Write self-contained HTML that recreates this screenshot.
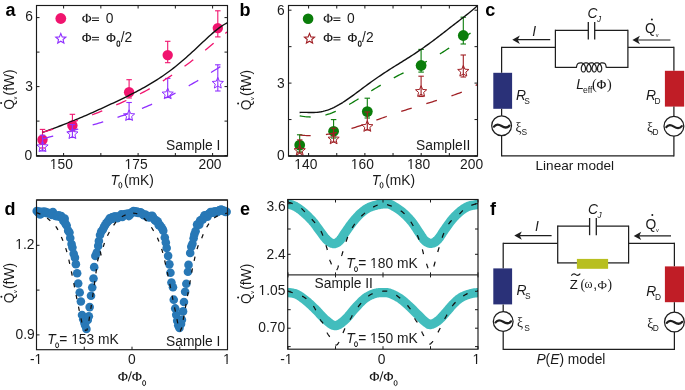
<!DOCTYPE html>
<html><head><meta charset="utf-8"><style>
html,body{margin:0;padding:0;background:#fff;width:685px;height:390px;overflow:hidden}
svg{display:block}
</style></head><body>
<svg style="will-change:transform" width="685" height="390" viewBox="0 0 685 390">
<rect width="685" height="390" fill="#fff"/>
<text x="5.5" y="16" font-size="18" font-family="Liberation Sans" font-weight="bold" fill="#000">a</text>
<line x1="42.5" y1="129.4" x2="42.5" y2="148" stroke="#f0146e" stroke-width="1.1" />
<line x1="39.75" y1="129.4" x2="45.25" y2="129.4" stroke="#f0146e" stroke-width="1.1" />
<line x1="39.75" y1="148" x2="45.25" y2="148" stroke="#f0146e" stroke-width="1.1" />
<circle cx="42.5" cy="139.8" r="5.2" fill="#f0146e" stroke="none" stroke-width="0"/>
<line x1="72.4" y1="114.3" x2="72.4" y2="131" stroke="#f0146e" stroke-width="1.1" />
<line x1="69.65" y1="114.3" x2="75.15" y2="114.3" stroke="#f0146e" stroke-width="1.1" />
<line x1="69.65" y1="131" x2="75.15" y2="131" stroke="#f0146e" stroke-width="1.1" />
<circle cx="72.4" cy="125.5" r="5.2" fill="#f0146e" stroke="none" stroke-width="0"/>
<line x1="129.1" y1="79.7" x2="129.1" y2="98" stroke="#f0146e" stroke-width="1.1" />
<line x1="126.35" y1="79.7" x2="131.85" y2="79.7" stroke="#f0146e" stroke-width="1.1" />
<line x1="126.35" y1="98" x2="131.85" y2="98" stroke="#f0146e" stroke-width="1.1" />
<circle cx="129.1" cy="92.3" r="5.2" fill="#f0146e" stroke="none" stroke-width="0"/>
<line x1="167.7" y1="41.3" x2="167.7" y2="62.7" stroke="#f0146e" stroke-width="1.1" />
<line x1="164.95" y1="41.3" x2="170.45" y2="41.3" stroke="#f0146e" stroke-width="1.1" />
<line x1="164.95" y1="62.7" x2="170.45" y2="62.7" stroke="#f0146e" stroke-width="1.1" />
<circle cx="167.7" cy="55.1" r="5.2" fill="#f0146e" stroke="none" stroke-width="0"/>
<line x1="217.8" y1="10.8" x2="217.8" y2="36.9" stroke="#f0146e" stroke-width="1.1" />
<line x1="215.05" y1="10.8" x2="220.55" y2="10.8" stroke="#f0146e" stroke-width="1.1" />
<line x1="215.05" y1="36.9" x2="220.55" y2="36.9" stroke="#f0146e" stroke-width="1.1" />
<circle cx="217.8" cy="28.1" r="5.2" fill="#f0146e" stroke="none" stroke-width="0"/>
<line x1="42.5" y1="135.2" x2="42.5" y2="151" stroke="#9030ff" stroke-width="1.1" />
<line x1="39.75" y1="135.2" x2="45.25" y2="135.2" stroke="#9030ff" stroke-width="1.1" />
<line x1="39.75" y1="151" x2="45.25" y2="151" stroke="#9030ff" stroke-width="1.1" />
<path d="M42.5,140.9 L44.06,144.65 L48.11,144.98 L45.03,147.62 L45.97,151.57 L42.5,149.46 L39.03,151.57 L39.97,147.62 L36.89,144.98 L40.94,144.65Z" fill="none" stroke="#9030ff" stroke-width="1.0" stroke-linejoin="miter"/>
<line x1="72.4" y1="124.6" x2="72.4" y2="137.5" stroke="#9030ff" stroke-width="1.1" />
<line x1="69.65" y1="124.6" x2="75.15" y2="124.6" stroke="#9030ff" stroke-width="1.1" />
<line x1="69.65" y1="137.5" x2="75.15" y2="137.5" stroke="#9030ff" stroke-width="1.1" />
<path d="M72.4,127.9 L73.96,131.65 L78.01,131.98 L74.93,134.62 L75.87,138.57 L72.4,136.46 L68.93,138.57 L69.87,134.62 L66.79,131.98 L70.84,131.65Z" fill="none" stroke="#9030ff" stroke-width="1.0" stroke-linejoin="miter"/>
<line x1="129.1" y1="102.5" x2="129.1" y2="119.5" stroke="#9030ff" stroke-width="1.1" />
<line x1="126.35" y1="102.5" x2="131.85" y2="102.5" stroke="#9030ff" stroke-width="1.1" />
<line x1="126.35" y1="119.5" x2="131.85" y2="119.5" stroke="#9030ff" stroke-width="1.1" />
<path d="M129.1,109.8 L130.66,113.55 L134.71,113.88 L131.63,116.52 L132.57,120.47 L129.1,118.36 L125.63,120.47 L126.57,116.52 L123.49,113.88 L127.54,113.55Z" fill="none" stroke="#9030ff" stroke-width="1.0" stroke-linejoin="miter"/>
<line x1="167.7" y1="78.4" x2="167.7" y2="97.5" stroke="#9030ff" stroke-width="1.1" />
<line x1="164.95" y1="78.4" x2="170.45" y2="78.4" stroke="#9030ff" stroke-width="1.1" />
<line x1="164.95" y1="97.5" x2="170.45" y2="97.5" stroke="#9030ff" stroke-width="1.1" />
<path d="M167.7,88.1 L169.26,91.85 L173.31,92.18 L170.23,94.82 L171.17,98.77 L167.7,96.66 L164.23,98.77 L165.17,94.82 L162.09,92.18 L166.14,91.85Z" fill="none" stroke="#9030ff" stroke-width="1.0" stroke-linejoin="miter"/>
<line x1="217.8" y1="64.8" x2="217.8" y2="91" stroke="#9030ff" stroke-width="1.1" />
<line x1="215.05" y1="64.8" x2="220.55" y2="64.8" stroke="#9030ff" stroke-width="1.1" />
<line x1="215.05" y1="91" x2="220.55" y2="91" stroke="#9030ff" stroke-width="1.1" />
<path d="M217.8,77.4 L219.36,81.15 L223.41,81.48 L220.33,84.12 L221.27,88.07 L217.8,85.95 L214.33,88.07 L215.27,84.12 L212.19,81.48 L216.24,81.15Z" fill="none" stroke="#9030ff" stroke-width="1.0" stroke-linejoin="miter"/>
<path d="M42.6,132.36 L44.68,131.59 L46.76,130.84 L48.83,130.09 L50.91,129.33 L52.99,128.58 L55.07,127.82 L57.14,127.05 L59.22,126.27 L61.3,125.49 L63.38,124.7 L65.45,123.89 L67.53,123.08 L69.61,122.25 L71.69,121.42 L73.76,120.57 L75.84,119.71 L77.92,118.85 L80,117.97 L82.07,117.08 L84.15,116.19 L86.23,115.28 L88.31,114.37 L90.38,113.46 L92.46,112.53 L94.54,111.6 L96.62,110.67 L98.69,109.73 L100.77,108.78 L102.85,107.83 L104.93,106.88 L107,105.92 L109.08,104.96 L111.16,103.99 L113.24,103.02 L115.31,102.04 L117.39,101.06 L119.47,100.07 L121.55,99.07 L123.62,98.06 L125.7,97.05 L127.78,96.03 L129.86,94.99 L131.93,93.94 L134.01,92.88 L136.09,91.81 L138.17,90.71 L140.24,89.6 L142.32,88.47 L144.4,87.32 L146.48,86.15 L148.55,84.95 L150.63,83.72 L152.71,82.47 L154.79,81.18 L156.86,79.87 L158.94,78.52 L161.02,77.14 L163.1,75.73 L165.17,74.28 L167.25,72.79 L169.33,71.26 L171.41,69.7 L173.48,68.09 L175.56,66.45 L177.64,64.77 L179.72,63.06 L181.79,61.3 L183.87,59.52 L185.95,57.7 L188.03,55.84 L190.1,53.96 L192.18,52.06 L194.26,50.14 L196.34,48.2 L198.41,46.24 L200.49,44.29 L202.57,42.33 L204.65,40.39 L206.72,38.46 L208.8,36.56 L210.88,34.7 L212.96,32.89 L215.03,31.13 L217.11,29.45 L219.19,27.86 L221.27,26.36 L223.34,24.99 L225.42,23.76 L227.5,22.68" fill="none" stroke="#111" stroke-width="1.4" stroke-linejoin="round" stroke-linecap="butt"/>
<path d="M42.6,132.18 L44.68,131.63 L46.76,131.05 L48.83,130.45 L50.91,129.82 L52.99,129.18 L55.07,128.52 L57.14,127.84 L59.22,127.14 L61.3,126.43 L63.38,125.71 L65.45,124.98 L67.53,124.24 L69.61,123.48 L71.69,122.72 L73.76,121.96 L75.84,121.18 L77.92,120.4 L80,119.61 L82.07,118.82 L84.15,118.02 L86.23,117.21 L88.31,116.4 L90.38,115.59 L92.46,114.77 L94.54,113.95 L96.62,113.12 L98.69,112.28 L100.77,111.44 L102.85,110.59 L104.93,109.74 L107,108.88 L109.08,108.01 L111.16,107.14 L113.24,106.25 L115.31,105.36 L117.39,104.46 L119.47,103.54 L121.55,102.62 L123.62,101.69 L125.7,100.74 L127.78,99.78 L129.86,98.81 L131.93,97.82 L134.01,96.82 L136.09,95.8 L138.17,94.77 L140.24,93.71 L142.32,92.65 L144.4,91.56 L146.48,90.45 L148.55,89.33 L150.63,88.18 L152.71,87.02 L154.79,85.83 L156.86,84.62 L158.94,83.39 L161.02,82.14 L163.1,80.87 L165.17,79.57 L167.25,78.25 L169.33,76.9 L171.41,75.53 L173.48,74.14 L175.56,72.73 L177.64,71.29 L179.72,69.83 L181.79,68.34 L183.87,66.84 L185.95,65.31 L188.03,63.76 L190.1,62.18 L192.18,60.59 L194.26,58.98 L196.34,57.35 L198.41,55.7 L200.49,54.04 L202.57,52.36 L204.65,50.66 L206.72,48.96 L208.8,47.24 L210.88,45.52 L212.96,43.78 L215.03,42.05 L217.11,40.31 L219.19,38.57 L221.27,36.83 L223.34,35.09 L225.42,33.37 L227.5,31.65" fill="none" stroke="#f0146e" stroke-width="1.3" stroke-dasharray="11,15.2" stroke-linejoin="round" stroke-linecap="butt"/>
<path d="M42.6,139.01 L44.68,138.41 L46.76,137.8 L48.83,137.2 L50.91,136.61 L52.99,136.02 L55.07,135.43 L57.14,134.85 L59.22,134.27 L61.3,133.69 L63.38,133.12 L65.45,132.54 L67.53,131.97 L69.61,131.4 L71.69,130.82 L73.76,130.25 L75.84,129.68 L77.92,129.11 L80,128.53 L82.07,127.95 L84.15,127.38 L86.23,126.79 L88.31,126.21 L90.38,125.62 L92.46,125.02 L94.54,124.42 L96.62,123.82 L98.69,123.21 L100.77,122.59 L102.85,121.97 L104.93,121.34 L107,120.7 L109.08,120.06 L111.16,119.4 L113.24,118.74 L115.31,118.07 L117.39,117.39 L119.47,116.69 L121.55,115.99 L123.62,115.28 L125.7,114.55 L127.78,113.81 L129.86,113.06 L131.93,112.3 L134.01,111.53 L136.09,110.74 L138.17,109.94 L140.24,109.12 L142.32,108.29 L144.4,107.45 L146.48,106.59 L148.55,105.72 L150.63,104.83 L152.71,103.93 L154.79,103.01 L156.86,102.08 L158.94,101.13 L161.02,100.17 L163.1,99.19 L165.17,98.19 L167.25,97.18 L169.33,96.16 L171.41,95.12 L173.48,94.06 L175.56,92.98 L177.64,91.9 L179.72,90.79 L181.79,89.67 L183.87,88.54 L185.95,87.39 L188.03,86.23 L190.1,85.05 L192.18,83.86 L194.26,82.66 L196.34,81.45 L198.41,80.22 L200.49,78.98 L202.57,77.72 L204.65,76.46 L206.72,75.19 L208.8,73.91 L210.88,72.61 L212.96,71.31 L215.03,70.01 L217.11,68.69 L219.19,67.37 L221.27,66.05 L223.34,64.72 L225.42,63.38 L227.5,62.05" fill="none" stroke="#9030ff" stroke-width="1.3" stroke-dasharray="11,15" stroke-linejoin="round" stroke-linecap="butt"/>
<rect x="36.5" y="5.5" width="191" height="150.5" fill="none" stroke="#1a1a1a" stroke-width="1.15"/>
<line x1="36.5" y1="156" x2="227.5" y2="156" stroke="#222" stroke-width="1.45" />
<line x1="63.6" y1="156" x2="63.6" y2="153" stroke="#1a1a1a" stroke-width="1.0" />
<line x1="63.6" y1="5.5" x2="63.6" y2="8.5" stroke="#1a1a1a" stroke-width="1.0" />
<line x1="100.85" y1="156" x2="100.85" y2="153" stroke="#1a1a1a" stroke-width="1.0" />
<line x1="100.85" y1="5.5" x2="100.85" y2="8.5" stroke="#1a1a1a" stroke-width="1.0" />
<line x1="138.1" y1="156" x2="138.1" y2="153" stroke="#1a1a1a" stroke-width="1.0" />
<line x1="138.1" y1="5.5" x2="138.1" y2="8.5" stroke="#1a1a1a" stroke-width="1.0" />
<line x1="175.35" y1="156" x2="175.35" y2="153" stroke="#1a1a1a" stroke-width="1.0" />
<line x1="175.35" y1="5.5" x2="175.35" y2="8.5" stroke="#1a1a1a" stroke-width="1.0" />
<line x1="212.6" y1="156" x2="212.6" y2="153" stroke="#1a1a1a" stroke-width="1.0" />
<line x1="212.6" y1="5.5" x2="212.6" y2="8.5" stroke="#1a1a1a" stroke-width="1.0" />
<line x1="36.5" y1="155.6" x2="39.5" y2="155.6" stroke="#1a1a1a" stroke-width="1.0" />
<line x1="227.5" y1="155.6" x2="224.5" y2="155.6" stroke="#1a1a1a" stroke-width="1.0" />
<line x1="36.5" y1="121.1" x2="39.5" y2="121.1" stroke="#1a1a1a" stroke-width="1.0" />
<line x1="227.5" y1="121.1" x2="224.5" y2="121.1" stroke="#1a1a1a" stroke-width="1.0" />
<line x1="36.5" y1="86.6" x2="39.5" y2="86.6" stroke="#1a1a1a" stroke-width="1.0" />
<line x1="227.5" y1="86.6" x2="224.5" y2="86.6" stroke="#1a1a1a" stroke-width="1.0" />
<line x1="36.5" y1="52.1" x2="39.5" y2="52.1" stroke="#1a1a1a" stroke-width="1.0" />
<line x1="227.5" y1="52.1" x2="224.5" y2="52.1" stroke="#1a1a1a" stroke-width="1.0" />
<line x1="36.5" y1="17.6" x2="39.5" y2="17.6" stroke="#1a1a1a" stroke-width="1.0" />
<line x1="227.5" y1="17.6" x2="224.5" y2="17.6" stroke="#1a1a1a" stroke-width="1.0" />
<text x="32.1" y="159.6" font-size="13.8" font-family="Liberation Sans" text-anchor="end" fill="#1a1a1a">0</text>
<text x="32.9" y="90.6" font-size="13.8" font-family="Liberation Sans" text-anchor="end" fill="#1a1a1a">3</text>
<text x="32.9" y="21.2" font-size="13.8" font-family="Liberation Sans" text-anchor="end" fill="#1a1a1a">6</text>
<text x="61.3" y="168.9" font-size="13.8" font-family="Liberation Sans" text-anchor="middle" fill="#1a1a1a">150</text>
<text x="136.1" y="168.9" font-size="13.8" font-family="Liberation Sans" text-anchor="middle" fill="#1a1a1a">175</text>
<text x="210" y="168.9" font-size="13.8" font-family="Liberation Sans" text-anchor="middle" fill="#1a1a1a">200</text>
<text x="110.6" y="184.6" font-size="13.8" font-family="Liberation Sans" font-style="italic" fill="#1a1a1a">T</text>
<ellipse cx="120.35" cy="185.2" rx="1.48" ry="2.82" fill="none" stroke="#1a1a1a" stroke-width="0.95"/>
<text x="124" y="184.6" font-size="13.8" font-family="Liberation Sans" fill="#1a1a1a">(mK)</text>
<g transform="translate(13.5,109.7) rotate(-90)">
<text x="0" y="0" font-size="13.8" font-family="Liberation Sans" fill="#1a1a1a">Q</text>
<text x="10.3" y="3.3" font-size="5.6" font-family="Liberation Sans" fill="#1a1a1a">v</text>
<text x="14.3" y="0" font-size="13.8" font-family="Liberation Sans" fill="#1a1a1a">(fW)</text>
<circle cx="6.6" cy="-12.4" r="1.0" fill="#1a1a1a"/>
</g>
<circle cx="60.8" cy="18.5" r="5.4" fill="#f0146e" stroke="none" stroke-width="0"/>
<path d="M60.8,33.5 L62.2,36.87 L65.84,37.16 L63.07,39.54 L63.92,43.09 L60.8,41.18 L57.68,43.09 L58.53,39.54 L55.76,37.16 L59.4,36.87Z" fill="none" stroke="#9030ff" stroke-width="1.1" stroke-linejoin="miter"/>
<path d="M82.2,18.6 A4.5,3.2 0 1,0 91.2,18.6 A4.5,3.2 0 1,0 82.2,18.6 Z M83.65,18.6 A3.05,2.5 0 1,1 89.75,18.6 A3.05,2.5 0 1,1 83.65,18.6 Z" fill="#1a1a1a" fill-rule="evenodd"/>
<rect x="86.05" y="13.9" width="1.3" height="8.7" fill="#1a1a1a"/>
<rect x="85.5" y="13.9" width="2.4" height="0.55" fill="#1a1a1a" opacity="0.8"/>
<rect x="85.5" y="22.05" width="2.4" height="0.55" fill="#1a1a1a" opacity="0.8"/>
<line x1="92" y1="18" x2="99" y2="18" stroke="#1a1a1a" stroke-width="1.0" />
<line x1="92" y1="20.5" x2="99" y2="20.5" stroke="#1a1a1a" stroke-width="1.0" />
<path d="M82.2,38 A4.5,3.2 0 1,0 91.2,38 A4.5,3.2 0 1,0 82.2,38 Z M83.65,38 A3.05,2.5 0 1,1 89.75,38 A3.05,2.5 0 1,1 83.65,38 Z" fill="#1a1a1a" fill-rule="evenodd"/>
<rect x="86.05" y="33.3" width="1.3" height="8.7" fill="#1a1a1a"/>
<rect x="85.5" y="33.3" width="2.4" height="0.55" fill="#1a1a1a" opacity="0.8"/>
<rect x="85.5" y="41.45" width="2.4" height="0.55" fill="#1a1a1a" opacity="0.8"/>
<line x1="92" y1="37.4" x2="99" y2="37.4" stroke="#1a1a1a" stroke-width="1.0" />
<line x1="92" y1="39.9" x2="99" y2="39.9" stroke="#1a1a1a" stroke-width="1.0" />
<text x="105.7" y="22.8" font-size="13.8" font-family="Liberation Sans" fill="#1a1a1a">0</text>
<path d="M106.5,38 A4.5,3.2 0 1,0 115.5,38 A4.5,3.2 0 1,0 106.5,38 Z M107.95,38 A3.05,2.5 0 1,1 114.05,38 A3.05,2.5 0 1,1 107.95,38 Z" fill="#1a1a1a" fill-rule="evenodd"/>
<rect x="110.35" y="33.3" width="1.3" height="8.7" fill="#1a1a1a"/>
<rect x="109.8" y="33.3" width="2.4" height="0.55" fill="#1a1a1a" opacity="0.8"/>
<rect x="109.8" y="41.45" width="2.4" height="0.55" fill="#1a1a1a" opacity="0.8"/>
<ellipse cx="118.35" cy="43.65" rx="1.43" ry="2.63" fill="none" stroke="#1a1a1a" stroke-width="1.05"/>
<text x="120.7" y="42.2" font-size="13.8" font-family="Liberation Sans" fill="#1a1a1a">/2</text>
<text x="166" y="149.7" font-size="13.8" font-family="Liberation Sans" fill="#1a1a1a">Sample I</text>
<text x="239.5" y="16" font-size="18" font-family="Liberation Sans" font-weight="bold" fill="#000">b</text>
<line x1="299.7" y1="134.8" x2="299.7" y2="152" stroke="#0a7d0a" stroke-width="1.1" />
<line x1="296.95" y1="134.8" x2="302.45" y2="134.8" stroke="#0a7d0a" stroke-width="1.1" />
<line x1="296.95" y1="152" x2="302.45" y2="152" stroke="#0a7d0a" stroke-width="1.1" />
<circle cx="299.7" cy="145.1" r="5.4" fill="#0a7d0a" stroke="none" stroke-width="0"/>
<line x1="333.6" y1="119.6" x2="333.6" y2="138" stroke="#0a7d0a" stroke-width="1.1" />
<line x1="330.85" y1="119.6" x2="336.35" y2="119.6" stroke="#0a7d0a" stroke-width="1.1" />
<line x1="330.85" y1="138" x2="336.35" y2="138" stroke="#0a7d0a" stroke-width="1.1" />
<circle cx="333.6" cy="131.3" r="5.4" fill="#0a7d0a" stroke="none" stroke-width="0"/>
<line x1="367.3" y1="98.2" x2="367.3" y2="118" stroke="#0a7d0a" stroke-width="1.1" />
<line x1="364.55" y1="98.2" x2="370.05" y2="98.2" stroke="#0a7d0a" stroke-width="1.1" />
<line x1="364.55" y1="118" x2="370.05" y2="118" stroke="#0a7d0a" stroke-width="1.1" />
<circle cx="367.3" cy="111.6" r="5.4" fill="#0a7d0a" stroke="none" stroke-width="0"/>
<line x1="421.1" y1="49.4" x2="421.1" y2="72.1" stroke="#0a7d0a" stroke-width="1.1" />
<line x1="418.35" y1="49.4" x2="423.85" y2="49.4" stroke="#0a7d0a" stroke-width="1.1" />
<line x1="418.35" y1="72.1" x2="423.85" y2="72.1" stroke="#0a7d0a" stroke-width="1.1" />
<circle cx="421.1" cy="65.5" r="5.4" fill="#0a7d0a" stroke="none" stroke-width="0"/>
<line x1="463.3" y1="17.2" x2="463.3" y2="44" stroke="#0a7d0a" stroke-width="1.1" />
<line x1="460.55" y1="17.2" x2="466.05" y2="17.2" stroke="#0a7d0a" stroke-width="1.1" />
<line x1="460.55" y1="44" x2="466.05" y2="44" stroke="#0a7d0a" stroke-width="1.1" />
<circle cx="463.3" cy="35.5" r="5.4" fill="#0a7d0a" stroke="none" stroke-width="0"/>
<line x1="299.7" y1="139.9" x2="299.7" y2="153" stroke="#a01f24" stroke-width="1.1" />
<line x1="296.95" y1="139.9" x2="302.45" y2="139.9" stroke="#a01f24" stroke-width="1.1" />
<line x1="296.95" y1="153" x2="302.45" y2="153" stroke="#a01f24" stroke-width="1.1" />
<path d="M299.7,144.7 L301.26,148.45 L305.31,148.78 L302.23,151.42 L303.17,155.37 L299.7,153.25 L296.23,155.37 L297.17,151.42 L294.09,148.78 L298.14,148.45Z" fill="none" stroke="#a01f24" stroke-width="1.0" stroke-linejoin="miter"/>
<line x1="333.6" y1="128.2" x2="333.6" y2="142" stroke="#a01f24" stroke-width="1.1" />
<line x1="330.85" y1="128.2" x2="336.35" y2="128.2" stroke="#a01f24" stroke-width="1.1" />
<line x1="330.85" y1="142" x2="336.35" y2="142" stroke="#a01f24" stroke-width="1.1" />
<path d="M333.6,133.2 L335.16,136.95 L339.21,137.28 L336.13,139.92 L337.07,143.87 L333.6,141.75 L330.13,143.87 L331.07,139.92 L327.99,137.28 L332.04,136.95Z" fill="none" stroke="#a01f24" stroke-width="1.0" stroke-linejoin="miter"/>
<line x1="367.3" y1="112" x2="367.3" y2="130" stroke="#a01f24" stroke-width="1.1" />
<line x1="364.55" y1="112" x2="370.05" y2="112" stroke="#a01f24" stroke-width="1.1" />
<line x1="364.55" y1="130" x2="370.05" y2="130" stroke="#a01f24" stroke-width="1.1" />
<path d="M367.3,120.7 L368.86,124.45 L372.91,124.78 L369.83,127.42 L370.77,131.37 L367.3,129.25 L363.83,131.37 L364.77,127.42 L361.69,124.78 L365.74,124.45Z" fill="none" stroke="#a01f24" stroke-width="1.0" stroke-linejoin="miter"/>
<line x1="421.1" y1="76.2" x2="421.1" y2="96.5" stroke="#a01f24" stroke-width="1.1" />
<line x1="418.35" y1="76.2" x2="423.85" y2="76.2" stroke="#a01f24" stroke-width="1.1" />
<line x1="418.35" y1="96.5" x2="423.85" y2="96.5" stroke="#a01f24" stroke-width="1.1" />
<path d="M421.1,85.7 L422.66,89.45 L426.71,89.78 L423.63,92.42 L424.57,96.37 L421.1,94.25 L417.63,96.37 L418.57,92.42 L415.49,89.78 L419.54,89.45Z" fill="none" stroke="#a01f24" stroke-width="1.0" stroke-linejoin="miter"/>
<line x1="463.3" y1="55" x2="463.3" y2="77" stroke="#a01f24" stroke-width="1.1" />
<line x1="460.55" y1="55" x2="466.05" y2="55" stroke="#a01f24" stroke-width="1.1" />
<line x1="460.55" y1="77" x2="466.05" y2="77" stroke="#a01f24" stroke-width="1.1" />
<path d="M463.3,65.4 L464.86,69.15 L468.91,69.48 L465.83,72.12 L466.77,76.07 L463.3,73.95 L459.83,76.07 L460.77,72.12 L457.69,69.48 L461.74,69.15Z" fill="none" stroke="#a01f24" stroke-width="1.0" stroke-linejoin="miter"/>
<path d="M299.6,112.5 L301.39,112.37 L303.19,112.33 L304.98,112.35 L306.78,112.39 L308.57,112.45 L310.37,112.48 L312.16,112.5 L313.96,112.47 L315.75,112.38 L317.55,112.24 L319.34,112.03 L321.14,111.74 L322.93,111.38 L324.73,110.94 L326.52,110.42 L328.32,109.82 L330.11,109.14 L331.91,108.39 L333.7,107.57 L335.5,106.68 L337.29,105.73 L339.09,104.71 L340.88,103.64 L342.68,102.53 L344.47,101.36 L346.27,100.16 L348.06,98.93 L349.86,97.66 L351.65,96.37 L353.45,95.06 L355.24,93.74 L357.04,92.41 L358.83,91.07 L360.63,89.73 L362.42,88.39 L364.22,87.05 L366.01,85.72 L367.81,84.4 L369.6,83.09 L371.4,81.8 L373.19,80.52 L374.99,79.25 L376.78,78 L378.58,76.77 L380.37,75.55 L382.17,74.34 L383.96,73.16 L385.76,71.98 L387.55,70.82 L389.35,69.67 L391.14,68.53 L392.94,67.4 L394.73,66.28 L396.53,65.16 L398.32,64.04 L400.12,62.92 L401.91,61.81 L403.71,60.69 L405.5,59.56 L407.3,58.43 L409.09,57.29 L410.89,56.14 L412.68,54.98 L414.48,53.81 L416.27,52.62 L418.07,51.41 L419.86,50.19 L421.66,48.96 L423.45,47.71 L425.25,46.44 L427.04,45.15 L428.84,43.85 L430.63,42.54 L432.43,41.21 L434.22,39.86 L436.02,38.51 L437.81,37.14 L439.61,35.76 L441.4,34.38 L443.2,32.99 L444.99,31.6 L446.79,30.2 L448.58,28.81 L450.38,27.41 L452.17,26.02 L453.97,24.62 L455.76,23.23 L457.56,21.84 L459.35,20.46 L461.15,19.07 L462.94,17.68 L464.74,16.28 L466.53,14.88 L468.33,13.45 L470.12,12.01 L471.92,10.53 L473.71,9.01 L475.51,7.43 L477.3,5.79" fill="none" stroke="#111" stroke-width="1.4" stroke-linejoin="round" stroke-linecap="butt"/>
<path d="M299.7,115.88 L301.49,116.19 L303.29,116.46 L305.08,116.67 L306.88,116.84 L308.67,116.94 L310.46,116.99 L312.26,116.98 L314.05,116.91 L315.85,116.78 L317.64,116.58 L319.43,116.33 L321.23,116.01 L323.02,115.63 L324.82,115.19 L326.61,114.7 L328.4,114.14 L330.2,113.54 L331.99,112.88 L333.78,112.17 L335.58,111.41 L337.37,110.61 L339.17,109.77 L340.96,108.89 L342.75,107.97 L344.55,107.02 L346.34,106.04 L348.14,105.03 L349.93,104 L351.72,102.95 L353.52,101.88 L355.31,100.79 L357.11,99.69 L358.9,98.58 L360.69,97.46 L362.49,96.34 L364.28,95.22 L366.08,94.09 L367.87,92.97 L369.66,91.85 L371.46,90.74 L373.25,89.63 L375.05,88.54 L376.84,87.45 L378.63,86.38 L380.43,85.32 L382.22,84.27 L384.02,83.23 L385.81,82.21 L387.6,81.2 L389.4,80.21 L391.19,79.23 L392.98,78.26 L394.78,77.31 L396.57,76.37 L398.37,75.45 L400.16,74.53 L401.95,73.63 L403.75,72.73 L405.54,71.84 L407.34,70.95 L409.13,70.08 L410.92,69.2 L412.72,68.32 L414.51,67.44 L416.31,66.57 L418.1,65.68 L419.89,64.79 L421.69,63.89 L423.48,62.98 L425.28,62.06 L427.07,61.12 L428.86,60.17 L430.66,59.2 L432.45,58.22 L434.25,57.21 L436.04,56.18 L437.83,55.13 L439.63,54.06 L441.42,52.96 L443.22,51.84 L445.01,50.7 L446.8,49.53 L448.6,48.34 L450.39,47.14 L452.18,45.91 L453.98,44.66 L455.77,43.41 L457.57,42.14 L459.36,40.86 L461.15,39.58 L462.95,38.31 L464.74,37.04 L466.54,35.79 L468.33,34.56 L470.12,33.36 L471.92,32.2 L473.71,31.08 L475.51,30.03 L477.3,29.05" fill="none" stroke="#0a7d0a" stroke-width="1.3" stroke-dasharray="11,15" stroke-linejoin="round" stroke-linecap="butt"/>
<path d="M299.7,134.87 L301.49,135.1 L303.29,135.28 L305.08,135.43 L306.88,135.54 L308.67,135.61 L310.46,135.64 L312.26,135.64 L314.05,135.6 L315.85,135.53 L317.64,135.42 L319.43,135.28 L321.23,135.11 L323.02,134.91 L324.82,134.68 L326.61,134.42 L328.4,134.14 L330.2,133.83 L331.99,133.49 L333.78,133.13 L335.58,132.75 L337.37,132.34 L339.17,131.92 L340.96,131.47 L342.75,131 L344.55,130.52 L346.34,130.02 L348.14,129.51 L349.93,128.98 L351.72,128.43 L353.52,127.88 L355.31,127.31 L357.11,126.73 L358.9,126.14 L360.69,125.55 L362.49,124.94 L364.28,124.33 L366.08,123.71 L367.87,123.09 L369.66,122.46 L371.46,121.83 L373.25,121.2 L375.05,120.56 L376.84,119.92 L378.63,119.29 L380.43,118.65 L382.22,118.01 L384.02,117.38 L385.81,116.74 L387.6,116.11 L389.4,115.48 L391.19,114.86 L392.98,114.24 L394.78,113.62 L396.57,113.01 L398.37,112.4 L400.16,111.8 L401.95,111.2 L403.75,110.61 L405.54,110.02 L407.34,109.44 L409.13,108.86 L410.92,108.29 L412.72,107.73 L414.51,107.17 L416.31,106.61 L418.1,106.06 L419.89,105.52 L421.69,104.98 L423.48,104.44 L425.28,103.9 L427.07,103.37 L428.86,102.84 L430.66,102.31 L432.45,101.78 L434.25,101.24 L436.04,100.71 L437.83,100.17 L439.63,99.63 L441.42,99.09 L443.22,98.54 L445.01,97.98 L446.8,97.41 L448.6,96.83 L450.39,96.24 L452.18,95.63 L453.98,95.01 L455.77,94.38 L457.57,93.72 L459.36,93.04 L461.15,92.34 L462.95,91.61 L464.74,90.86 L466.54,90.07 L468.33,89.25 L470.12,88.4 L471.92,87.51 L473.71,86.58 L475.51,85.6 L477.3,84.58" fill="none" stroke="#a01f24" stroke-width="1.3" stroke-dasharray="11,15.3" stroke-linejoin="round" stroke-linecap="butt"/>
<rect x="288.5" y="5.5" width="189" height="150.5" fill="none" stroke="#1a1a1a" stroke-width="1.15"/>
<line x1="288.5" y1="156" x2="477.5" y2="156" stroke="#222" stroke-width="1.45" />
<line x1="308.6" y1="156" x2="308.6" y2="153" stroke="#1a1a1a" stroke-width="1.0" />
<line x1="308.6" y1="5.5" x2="308.6" y2="8.5" stroke="#1a1a1a" stroke-width="1.0" />
<line x1="336.75" y1="156" x2="336.75" y2="153" stroke="#1a1a1a" stroke-width="1.0" />
<line x1="336.75" y1="5.5" x2="336.75" y2="8.5" stroke="#1a1a1a" stroke-width="1.0" />
<line x1="364.89" y1="156" x2="364.89" y2="153" stroke="#1a1a1a" stroke-width="1.0" />
<line x1="364.89" y1="5.5" x2="364.89" y2="8.5" stroke="#1a1a1a" stroke-width="1.0" />
<line x1="393.04" y1="156" x2="393.04" y2="153" stroke="#1a1a1a" stroke-width="1.0" />
<line x1="393.04" y1="5.5" x2="393.04" y2="8.5" stroke="#1a1a1a" stroke-width="1.0" />
<line x1="421.18" y1="156" x2="421.18" y2="153" stroke="#1a1a1a" stroke-width="1.0" />
<line x1="421.18" y1="5.5" x2="421.18" y2="8.5" stroke="#1a1a1a" stroke-width="1.0" />
<line x1="449.33" y1="156" x2="449.33" y2="153" stroke="#1a1a1a" stroke-width="1.0" />
<line x1="449.33" y1="5.5" x2="449.33" y2="8.5" stroke="#1a1a1a" stroke-width="1.0" />
<line x1="288.5" y1="156" x2="291.5" y2="156" stroke="#1a1a1a" stroke-width="1.0" />
<line x1="477.5" y1="156" x2="474.5" y2="156" stroke="#1a1a1a" stroke-width="1.0" />
<line x1="288.5" y1="119.55" x2="291.5" y2="119.55" stroke="#1a1a1a" stroke-width="1.0" />
<line x1="477.5" y1="119.55" x2="474.5" y2="119.55" stroke="#1a1a1a" stroke-width="1.0" />
<line x1="288.5" y1="83.1" x2="291.5" y2="83.1" stroke="#1a1a1a" stroke-width="1.0" />
<line x1="477.5" y1="83.1" x2="474.5" y2="83.1" stroke="#1a1a1a" stroke-width="1.0" />
<line x1="288.5" y1="46.65" x2="291.5" y2="46.65" stroke="#1a1a1a" stroke-width="1.0" />
<line x1="477.5" y1="46.65" x2="474.5" y2="46.65" stroke="#1a1a1a" stroke-width="1.0" />
<line x1="288.5" y1="10.2" x2="291.5" y2="10.2" stroke="#1a1a1a" stroke-width="1.0" />
<line x1="477.5" y1="10.2" x2="474.5" y2="10.2" stroke="#1a1a1a" stroke-width="1.0" />
<text x="284.8" y="160.2" font-size="13.8" font-family="Liberation Sans" text-anchor="end" fill="#1a1a1a">0</text>
<text x="284.8" y="88" font-size="13.8" font-family="Liberation Sans" text-anchor="end" fill="#1a1a1a">3</text>
<text x="284.8" y="14.6" font-size="13.8" font-family="Liberation Sans" text-anchor="end" fill="#1a1a1a">6</text>
<text x="305.8" y="169.2" font-size="13.8" font-family="Liberation Sans" text-anchor="middle" fill="#1a1a1a">140</text>
<text x="362.3" y="169.2" font-size="13.8" font-family="Liberation Sans" text-anchor="middle" fill="#1a1a1a">160</text>
<text x="418.6" y="169.2" font-size="13.8" font-family="Liberation Sans" text-anchor="middle" fill="#1a1a1a">180</text>
<text x="471.6" y="169.2" font-size="13.8" font-family="Liberation Sans" text-anchor="middle" fill="#1a1a1a">200</text>
<text x="371.8" y="184.6" font-size="13.8" font-family="Liberation Sans" font-style="italic" fill="#1a1a1a">T</text>
<ellipse cx="381.55" cy="185.2" rx="1.47" ry="2.82" fill="none" stroke="#1a1a1a" stroke-width="0.95"/>
<text x="385.2" y="184.6" font-size="13.8" font-family="Liberation Sans" fill="#1a1a1a">(mK)</text>
<g transform="translate(250.5,110.2) rotate(-90)">
<text x="0" y="0" font-size="13.8" font-family="Liberation Sans" fill="#1a1a1a">Q</text>
<text x="10.3" y="3.3" font-size="5.6" font-family="Liberation Sans" fill="#1a1a1a">v</text>
<text x="14.3" y="0" font-size="13.8" font-family="Liberation Sans" fill="#1a1a1a">(fW)</text>
<circle cx="6.6" cy="-12.4" r="1.0" fill="#1a1a1a"/>
</g>
<circle cx="308.1" cy="18.8" r="5.3" fill="#0a7d0a" stroke="none" stroke-width="0"/>
<path d="M309.5,33.5 L310.9,36.87 L314.54,37.16 L311.77,39.54 L312.62,43.09 L309.5,41.18 L306.38,43.09 L307.23,39.54 L304.46,37.16 L308.1,36.87Z" fill="none" stroke="#a01f24" stroke-width="1.1" stroke-linejoin="miter"/>
<path d="M323.6,18.6 A4.5,3.2 0 1,0 332.6,18.6 A4.5,3.2 0 1,0 323.6,18.6 Z M325.05,18.6 A3.05,2.5 0 1,1 331.15,18.6 A3.05,2.5 0 1,1 325.05,18.6 Z" fill="#1a1a1a" fill-rule="evenodd"/>
<rect x="327.45" y="13.9" width="1.3" height="8.7" fill="#1a1a1a"/>
<rect x="326.9" y="13.9" width="2.4" height="0.55" fill="#1a1a1a" opacity="0.8"/>
<rect x="326.9" y="22.05" width="2.4" height="0.55" fill="#1a1a1a" opacity="0.8"/>
<line x1="333.4" y1="18" x2="340.4" y2="18" stroke="#1a1a1a" stroke-width="1.0" />
<line x1="333.4" y1="20.5" x2="340.4" y2="20.5" stroke="#1a1a1a" stroke-width="1.0" />
<path d="M323.6,38 A4.5,3.2 0 1,0 332.6,38 A4.5,3.2 0 1,0 323.6,38 Z M325.05,38 A3.05,2.5 0 1,1 331.15,38 A3.05,2.5 0 1,1 325.05,38 Z" fill="#1a1a1a" fill-rule="evenodd"/>
<rect x="327.45" y="33.3" width="1.3" height="8.7" fill="#1a1a1a"/>
<rect x="326.9" y="33.3" width="2.4" height="0.55" fill="#1a1a1a" opacity="0.8"/>
<rect x="326.9" y="41.45" width="2.4" height="0.55" fill="#1a1a1a" opacity="0.8"/>
<line x1="333.4" y1="37.4" x2="340.4" y2="37.4" stroke="#1a1a1a" stroke-width="1.0" />
<line x1="333.4" y1="39.9" x2="340.4" y2="39.9" stroke="#1a1a1a" stroke-width="1.0" />
<text x="347.1" y="22.8" font-size="13.8" font-family="Liberation Sans" fill="#1a1a1a">0</text>
<path d="M347.9,38 A4.5,3.2 0 1,0 356.9,38 A4.5,3.2 0 1,0 347.9,38 Z M349.35,38 A3.05,2.5 0 1,1 355.45,38 A3.05,2.5 0 1,1 349.35,38 Z" fill="#1a1a1a" fill-rule="evenodd"/>
<rect x="351.75" y="33.3" width="1.3" height="8.7" fill="#1a1a1a"/>
<rect x="351.2" y="33.3" width="2.4" height="0.55" fill="#1a1a1a" opacity="0.8"/>
<rect x="351.2" y="41.45" width="2.4" height="0.55" fill="#1a1a1a" opacity="0.8"/>
<ellipse cx="359.75" cy="43.65" rx="1.43" ry="2.63" fill="none" stroke="#1a1a1a" stroke-width="1.05"/>
<text x="362.1" y="42.2" font-size="13.8" font-family="Liberation Sans" fill="#1a1a1a">/2</text>
<text x="416" y="149.7" font-size="13.8" font-family="Liberation Sans" fill="#1a1a1a">SampleII</text>
<text x="485.3" y="16.2" font-size="18" font-family="Liberation Sans" font-weight="bold" fill="#000">c</text>
<line x1="501.6" y1="47.4" x2="555.4" y2="47.4" stroke="#1e1e1e" stroke-width="1.25" />
<line x1="501.6" y1="46.8" x2="501.6" y2="72.8" stroke="#1e1e1e" stroke-width="1.25" />
<line x1="555.4" y1="29.7" x2="555.4" y2="67.9" stroke="#1e1e1e" stroke-width="1.25" />
<line x1="627.9" y1="29.7" x2="627.9" y2="67.9" stroke="#1e1e1e" stroke-width="1.25" />
<line x1="555.4" y1="30.3" x2="588.3" y2="30.3" stroke="#1e1e1e" stroke-width="1.25" />
<line x1="594.7" y1="30.3" x2="627.9" y2="30.3" stroke="#1e1e1e" stroke-width="1.25" />
<line x1="588.3" y1="22.1" x2="588.3" y2="39.4" stroke="#1e1e1e" stroke-width="1.3" />
<line x1="594.7" y1="22.1" x2="594.7" y2="39.4" stroke="#1e1e1e" stroke-width="1.3" />
<line x1="627.9" y1="47.4" x2="673.9" y2="47.4" stroke="#1e1e1e" stroke-width="1.25" />
<line x1="673.9" y1="46.8" x2="673.9" y2="70.8" stroke="#1e1e1e" stroke-width="1.25" />
<rect x="493.3" y="72.8" width="18.8" height="36" fill="#2a3178"/>
<rect x="664.9" y="70.8" width="19.3" height="35.8" fill="#c01d26"/>
<line x1="501.6" y1="108.8" x2="501.6" y2="156.4" stroke="#1e1e1e" stroke-width="1.25" />
<line x1="673.9" y1="106.6" x2="673.9" y2="156.4" stroke="#1e1e1e" stroke-width="1.25" />
<line x1="501.6" y1="155.8" x2="673.9" y2="155.8" stroke="#1e1e1e" stroke-width="1.25" />
<circle cx="501.6" cy="125.75" r="9.9" fill="#fff" stroke="#1e1e1e" stroke-width="1.25"/>
<path d="M494,126.65 C496.1,123.65 498.6,124.15 501.6,126.05 S507.1,128.45 509.5,125.55" fill="none" stroke="#1e1e1e" stroke-width="2.2" stroke-linecap="round"/>
<circle cx="673.9" cy="126.3" r="9.9" fill="#fff" stroke="#1e1e1e" stroke-width="1.25"/>
<path d="M666.3,127.2 C668.4,124.2 670.9,124.7 673.9,126.6 S679.4,129 681.8,126.1" fill="none" stroke="#1e1e1e" stroke-width="2.2" stroke-linecap="round"/>
<line x1="555.4" y1="67.4" x2="576.4" y2="67.4" stroke="#1e1e1e" stroke-width="1.25" />
<line x1="606.3" y1="67.4" x2="627.9" y2="67.4" stroke="#1e1e1e" stroke-width="1.25" />
<path d="M575.9,67.4 L576.4,67.4 C577,63.4 578.1,62.8 580.7,62.8 L581.12,62.82 L581.54,62.89 L581.95,63.01 L582.35,63.16 L582.74,63.36 L583.11,63.6 L583.46,63.88 L583.79,64.2 L584.1,64.54 L584.38,64.91 L584.63,65.31 L584.85,65.73 L585.05,66.17 L585.21,66.62 L585.33,67.07 L585.42,67.53 L585.48,67.99 L585.51,68.45 L585.5,68.89 L585.47,69.31 L585.4,69.72 L585.3,70.11 L585.18,70.46 L585.03,70.79 L584.85,71.09 L584.66,71.34 L584.45,71.56 L584.23,71.73 L584,71.87 L583.75,71.95 L583.51,72 L583.26,71.99 L583.01,71.94 L582.77,71.85 L582.53,71.71 L582.31,71.53 L582.11,71.3 L581.92,71.04 L581.75,70.74 L581.6,70.41 L581.48,70.04 L581.39,69.66 L581.33,69.24 L581.3,68.81 L581.3,68.37 L581.33,67.92 L581.39,67.46 L581.49,67 L581.62,66.54 L581.79,66.1 L581.98,65.66 L582.21,65.24 L582.47,64.85 L582.76,64.48 L583.07,64.14 L583.4,63.83 L583.76,63.56 L584.13,63.33 L584.52,63.13 L584.92,62.98 L585.34,62.88 L585.75,62.82 L586.17,62.8 L586.59,62.83 L587.01,62.91 L587.42,63.03 L587.82,63.19 L588.2,63.4 L588.57,63.65 L588.92,63.93 L589.25,64.25 L589.55,64.6 L589.83,64.98 L590.07,65.38 L590.29,65.81 L590.48,66.24 L590.63,66.69 L590.75,67.15 L590.84,67.61 L590.89,68.07 L590.92,68.52 L590.9,68.96 L590.86,69.38 L590.79,69.79 L590.68,70.17 L590.56,70.52 L590.4,70.84 L590.23,71.13 L590.03,71.38 L589.82,71.59 L589.59,71.76 L589.36,71.88 L589.11,71.96 L588.87,72 L588.62,71.99 L588.37,71.93 L588.13,71.83 L587.9,71.68 L587.68,71.49 L587.48,71.26 L587.29,70.99 L587.13,70.69 L586.99,70.35 L586.87,69.98 L586.78,69.59 L586.72,69.17 L586.7,68.74 L586.7,68.29 L586.74,67.84 L586.81,67.38 L586.91,66.92 L587.05,66.47 L587.22,66.02 L587.42,65.59 L587.66,65.18 L587.92,64.79 L588.21,64.42 L588.52,64.09 L588.86,63.78 L589.22,63.52 L589.6,63.29 L589.99,63.11 L590.4,62.96 L590.81,62.86 L591.23,62.81 L591.65,62.8 L592.07,62.84 L592.48,62.92 L592.89,63.05 L593.29,63.23 L593.67,63.44 L594.04,63.69 L594.38,63.98 L594.7,64.31 L595,64.66 L595.27,65.05 L595.52,65.45 L595.73,65.88 L595.91,66.32 L596.06,66.77 L596.17,67.23 L596.26,67.69 L596.3,68.15 L596.32,68.6 L596.3,69.03 L596.25,69.45 L596.18,69.85 L596.07,70.23 L595.94,70.58 L595.78,70.89 L595.6,71.18 L595.4,71.42 L595.19,71.62 L594.96,71.78 L594.72,71.9 L594.48,71.97 L594.23,72 L593.98,71.98 L593.73,71.92 L593.5,71.81 L593.27,71.65 L593.05,71.45 L592.85,71.22 L592.67,70.94 L592.51,70.63 L592.37,70.29 L592.26,69.92 L592.17,69.52 L592.12,69.1 L592.1,68.67 L592.11,68.22 L592.15,67.76 L592.23,67.3 L592.34,66.84 L592.48,66.39 L592.66,65.95 L592.86,65.52 L593.1,65.11 L593.37,64.72 L593.66,64.36 L593.98,64.03 L594.33,63.74 L594.69,63.48 L595.07,63.26 L595.46,63.08 L595.87,62.94 L596.28,62.85 L596.7,62.81 L597.12,62.81 L597.54,62.85 L597.96,62.94 L598.36,63.08 L598.76,63.26 L599.14,63.48 L599.5,63.74 L599.84,64.04 L600.16,64.37 L600.45,64.73 L600.72,65.11 L600.96,65.52 L601.17,65.95 L601.34,66.39 L601.48,66.85 L601.59,67.31 L601.67,67.77 L601.71,68.22 L601.72,68.67 L601.7,69.1 L601.65,69.52 L601.56,69.92 L601.45,70.29 L601.31,70.63 L601.15,70.94 L600.97,71.22 L600.77,71.46 L600.55,71.65 L600.32,71.81 L600.08,71.92 L599.84,71.98 L599.59,72 L599.34,71.97 L599.1,71.9 L598.86,71.78 L598.63,71.62 L598.42,71.42 L598.22,71.17 L598.04,70.89 L597.88,70.58 L597.75,70.23 L597.65,69.85 L597.57,69.45 L597.52,69.03 L597.5,68.59 L597.52,68.14 L597.57,67.68 L597.65,67.22 L597.76,66.77 L597.91,66.32 L598.09,65.87 L598.31,65.45 L598.55,65.04 L598.82,64.66 L599.12,64.3 L599.44,63.98 L599.79,63.69 L600.15,63.44 L600.54,63.22 L600.93,63.05 L601.34,62.92 L601.76,62.84 L602.18,62.8 L602.31,62.8 C604.91,62.8 605.7,63.4 606.3,67.4 L606.8,67.4" fill="none" stroke="#1e1e1e" stroke-width="1.2" stroke-linejoin="round"/>
<line x1="517.3" y1="39.7" x2="550.2" y2="39.7" stroke="#1e1e1e" stroke-width="1.2" />
<path d="M512.3,39.7 L519.8,35.5 L517.8,39.7 L519.8,43.9 Z" fill="#1e1e1e"/>
<line x1="637.4" y1="40" x2="670.4" y2="40" stroke="#1e1e1e" stroke-width="1.2" />
<path d="M632.4,40 L639.9,35.8 L637.9,40 L639.9,44.2 Z" fill="#1e1e1e"/>
<text x="532.3" y="35.7" font-size="13.8" font-family="Liberation Sans" font-style="italic" fill="#1a1a1a">I</text>
<text x="587.4" y="17.7" font-size="13.8" font-family="Liberation Sans" font-style="italic" fill="#1a1a1a">C</text>
<text x="597" y="21.8" font-size="8.2" font-family="Liberation Sans" font-style="italic" fill="#1a1a1a">J</text>
<text x="645.1" y="33" font-size="13.8" font-family="Liberation Sans" fill="#1a1a1a">Q</text>
<circle cx="651.9" cy="19.6" r="1.0" fill="#1a1a1a" stroke="none" stroke-width="0"/>
<text x="655.7" y="36.6" font-size="5.6" font-family="Liberation Sans" fill="#1a1a1a">v</text>
<text x="576.2" y="88.8" font-size="13.8" font-family="Liberation Sans" font-style="italic" fill="#1a1a1a">L</text>
<text x="582.9" y="93.1" font-size="8.6" font-family="Liberation Sans" fill="#1a1a1a">eff</text>
<text x="592" y="89.3" font-size="14.2" font-family="Liberation Serif" fill="#1a1a1a">(</text>
<path d="M596.9,84.65 A4.5,3.15 0 1,0 605.9,84.65 A4.5,3.15 0 1,0 596.9,84.65 Z M598.35,84.65 A3.05,2.45 0 1,1 604.45,84.65 A3.05,2.45 0 1,1 598.35,84.65 Z" fill="#1a1a1a" fill-rule="evenodd"/>
<rect x="600.75" y="80.2" width="1.3" height="8.5" fill="#1a1a1a"/>
<rect x="600.2" y="80.2" width="2.4" height="0.55" fill="#1a1a1a" opacity="0.8"/>
<rect x="600.2" y="88.15" width="2.4" height="0.55" fill="#1a1a1a" opacity="0.8"/>
<text x="606.9" y="89.3" font-size="14.2" font-family="Liberation Serif" fill="#1a1a1a">)</text>
<text x="516" y="99.5" font-size="13.8" font-family="Liberation Sans" font-style="italic" fill="#1a1a1a">R</text>
<text x="524.3" y="103.5" font-size="8.4" font-family="Liberation Sans" fill="#1a1a1a">S</text>
<text x="645.9" y="100" font-size="13.8" font-family="Liberation Sans" font-style="italic" fill="#1a1a1a">R</text>
<text x="654.6" y="104" font-size="8.4" font-family="Liberation Sans" fill="#1a1a1a">D</text>
<text x="515.4" y="131.5" font-size="13.6" font-family="Liberation Serif" fill="#1a1a1a">ξ</text>
<text x="521.6" y="134.7" font-size="8.4" font-family="Liberation Sans" fill="#1a1a1a">S</text>
<text x="647" y="132.2" font-size="13.6" font-family="Liberation Serif" fill="#1a1a1a">ξ</text>
<text x="652.4" y="135.2" font-size="8.4" font-family="Liberation Sans" fill="#1a1a1a">D</text>
<text x="535.5" y="169.9" font-size="13.6" font-family="Liberation Sans" fill="#1a1a1a">Linear model</text>
<text x="489.9" y="214.7" font-size="18" font-family="Liberation Sans" font-weight="bold" fill="#000">f</text>
<line x1="503.2" y1="243.3" x2="557.7" y2="243.3" stroke="#1e1e1e" stroke-width="1.25" />
<line x1="503.2" y1="242.7" x2="503.2" y2="268.4" stroke="#1e1e1e" stroke-width="1.25" />
<line x1="557.7" y1="225.6" x2="557.7" y2="263.5" stroke="#1e1e1e" stroke-width="1.25" />
<line x1="628.6" y1="225.6" x2="628.6" y2="263.5" stroke="#1e1e1e" stroke-width="1.25" />
<line x1="557.7" y1="226.2" x2="589.6" y2="226.2" stroke="#1e1e1e" stroke-width="1.25" />
<line x1="596.3" y1="226.2" x2="628.6" y2="226.2" stroke="#1e1e1e" stroke-width="1.25" />
<line x1="589.6" y1="218" x2="589.6" y2="235.2" stroke="#1e1e1e" stroke-width="1.3" />
<line x1="596.3" y1="218" x2="596.3" y2="235.2" stroke="#1e1e1e" stroke-width="1.3" />
<line x1="628.6" y1="243.3" x2="674.4" y2="243.3" stroke="#1e1e1e" stroke-width="1.25" />
<line x1="674.4" y1="242.7" x2="674.4" y2="266.4" stroke="#1e1e1e" stroke-width="1.25" />
<rect x="493.3" y="268.4" width="18.8" height="36" fill="#2a3178"/>
<rect x="664.9" y="266.4" width="19.3" height="35.8" fill="#c01d26"/>
<line x1="503.2" y1="304.4" x2="503.2" y2="350" stroke="#1e1e1e" stroke-width="1.25" />
<line x1="674.4" y1="302.2" x2="674.4" y2="350" stroke="#1e1e1e" stroke-width="1.25" />
<line x1="503.2" y1="349.4" x2="674.4" y2="349.4" stroke="#1e1e1e" stroke-width="1.25" />
<circle cx="503.2" cy="321.5" r="9.9" fill="#fff" stroke="#1e1e1e" stroke-width="1.25"/>
<path d="M495.6,322.4 C497.7,319.4 500.2,319.9 503.2,321.8 S508.7,324.2 511.1,321.3" fill="none" stroke="#1e1e1e" stroke-width="2.2" stroke-linecap="round"/>
<circle cx="674.4" cy="322" r="9.9" fill="#fff" stroke="#1e1e1e" stroke-width="1.25"/>
<path d="M666.8,322.9 C668.9,319.9 671.4,320.4 674.4,322.3 S679.9,324.7 682.3,321.8" fill="none" stroke="#1e1e1e" stroke-width="2.2" stroke-linecap="round"/>
<line x1="557.7" y1="262.9" x2="577" y2="262.9" stroke="#1e1e1e" stroke-width="1.25" />
<line x1="608" y1="262.9" x2="628.6" y2="262.9" stroke="#1e1e1e" stroke-width="1.25" />
<rect x="576.9" y="258.9" width="31.2" height="9.9" fill="#b8bf20"/>
<line x1="519.3" y1="235.6" x2="551.6" y2="235.6" stroke="#1e1e1e" stroke-width="1.2" />
<path d="M514.3,235.6 L521.8,231.4 L519.8,235.6 L521.8,239.8 Z" fill="#1e1e1e"/>
<line x1="638.7" y1="235.9" x2="671" y2="235.9" stroke="#1e1e1e" stroke-width="1.2" />
<path d="M633.7,235.9 L641.2,231.7 L639.2,235.9 L641.2,240.1 Z" fill="#1e1e1e"/>
<text x="535" y="231.2" font-size="13.8" font-family="Liberation Sans" font-style="italic" fill="#1a1a1a">I</text>
<text x="587.9" y="213.8" font-size="13.8" font-family="Liberation Sans" font-style="italic" fill="#1a1a1a">C</text>
<text x="597.5" y="218" font-size="8.2" font-family="Liberation Sans" font-style="italic" fill="#1a1a1a">J</text>
<text x="645.5" y="228.8" font-size="13.8" font-family="Liberation Sans" fill="#1a1a1a">Q</text>
<circle cx="652.3" cy="214.9" r="1.0" fill="#1a1a1a" stroke="none" stroke-width="0"/>
<text x="656.1" y="232.4" font-size="5.6" font-family="Liberation Sans" fill="#1a1a1a">v</text>
<text x="569.8" y="288.6" font-size="13.2" font-family="Liberation Sans" fill="#1a1a1a">Z</text>
<path d="M571.3,275.6 Q573.5,272.8 575.8,274.6 T580.3,273.6" fill="none" stroke="#1a1a1a" stroke-width="1.1"/>
<text x="580.6" y="289.2" font-size="13.6" font-family="Liberation Serif" fill="#1a1a1a">(</text>
<text x="584.6" y="288.3" font-size="12.2" font-family="Liberation Serif" fill="#1a1a1a">ω</text>
<text x="593.2" y="288.6" font-size="13.8" font-family="Liberation Sans" fill="#1a1a1a">,</text>
<path d="M597.85,285.3 A4.35,2.6 0 1,0 606.55,285.3 A4.35,2.6 0 1,0 597.85,285.3 Z M599.05,285.3 A3.15,2 0 1,1 605.35,285.3 A3.15,2 0 1,1 599.05,285.3 Z" fill="#1a1a1a" fill-rule="evenodd"/>
<rect x="601.65" y="281.1" width="1.1" height="8" fill="#1a1a1a"/>
<rect x="601" y="281.1" width="2.4" height="0.55" fill="#1a1a1a" opacity="0.8"/>
<rect x="601" y="288.55" width="2.4" height="0.55" fill="#1a1a1a" opacity="0.8"/>
<text x="607.6" y="289.2" font-size="13.6" font-family="Liberation Serif" fill="#1a1a1a">)</text>
<text x="516.6" y="294.6" font-size="13.8" font-family="Liberation Sans" font-style="italic" fill="#1a1a1a">R</text>
<text x="524.9" y="298.6" font-size="8.4" font-family="Liberation Sans" fill="#1a1a1a">S</text>
<text x="646.3" y="295.8" font-size="13.8" font-family="Liberation Sans" font-style="italic" fill="#1a1a1a">R</text>
<text x="655" y="299.6" font-size="8.4" font-family="Liberation Sans" fill="#1a1a1a">D</text>
<text x="517" y="327.4" font-size="13.6" font-family="Liberation Serif" fill="#1a1a1a">ξ</text>
<text x="524.2" y="330.7" font-size="8.4" font-family="Liberation Sans" fill="#1a1a1a">S</text>
<text x="647.3" y="328" font-size="13.6" font-family="Liberation Serif" fill="#1a1a1a">ξ</text>
<text x="652.7" y="331.2" font-size="8.4" font-family="Liberation Sans" fill="#1a1a1a">D</text>
<text x="536.4" y="363.6" font-size="13.8" font-family="Liberation Sans" fill="#1a1a1a"><tspan font-style="italic">P</tspan>(<tspan font-style="italic">E</tspan>) model</text>
<text x="4.6" y="214.5" font-size="18" font-family="Liberation Sans" font-weight="bold" fill="#000">d</text>
<g fill="#2878b6">
<circle cx="36.75" cy="211.01" r="4.3"/>
<circle cx="38.28" cy="212.73" r="4.3"/>
<circle cx="39.59" cy="211.61" r="4.3"/>
<circle cx="40.19" cy="214.53" r="4.3"/>
<circle cx="41.46" cy="213.58" r="4.3"/>
<circle cx="42.93" cy="211.87" r="4.3"/>
<circle cx="43.83" cy="211.84" r="4.3"/>
<circle cx="45.3" cy="211.87" r="4.3"/>
<circle cx="46.03" cy="213.04" r="4.3"/>
<circle cx="47.06" cy="212.48" r="4.3"/>
<circle cx="48.56" cy="213.54" r="4.3"/>
<circle cx="49.43" cy="213.03" r="4.3"/>
<circle cx="50.81" cy="214.03" r="4.3"/>
<circle cx="51.93" cy="214.84" r="4.3"/>
<circle cx="52.92" cy="212.14" r="4.3"/>
<circle cx="54.24" cy="214.55" r="4.3"/>
<circle cx="55.32" cy="215.63" r="4.3"/>
<circle cx="56.44" cy="216.32" r="4.3"/>
<circle cx="57.74" cy="216.02" r="4.3"/>
<circle cx="58.76" cy="215.37" r="4.3"/>
<circle cx="60.09" cy="216.88" r="4.3"/>
<circle cx="61.28" cy="216.03" r="4.3"/>
<circle cx="62.25" cy="218.02" r="4.3"/>
<circle cx="63.41" cy="221" r="4.3"/>
<circle cx="64.68" cy="218.64" r="4.3"/>
<circle cx="65.45" cy="223.59" r="4.3"/>
<circle cx="66.66" cy="225.57" r="4.3"/>
<circle cx="68.17" cy="230.65" r="4.3"/>
<circle cx="69.47" cy="232.54" r="4.3"/>
<circle cx="70.24" cy="238.02" r="4.3"/>
<circle cx="71.56" cy="244.1" r="4.3"/>
<circle cx="72.43" cy="247.48" r="4.3"/>
<circle cx="73.69" cy="253.85" r="4.3"/>
<circle cx="74.94" cy="257.65" r="4.3"/>
<circle cx="75.88" cy="264.14" r="4.3"/>
<circle cx="77.13" cy="273.21" r="4.3"/>
<circle cx="78.2" cy="283.54" r="4.3"/>
<circle cx="79.71" cy="292.52" r="4.3"/>
<circle cx="80.88" cy="301.57" r="4.3"/>
<circle cx="82.02" cy="315.08" r="4.3"/>
<circle cx="83.23" cy="319.17" r="4.3"/>
<circle cx="84.41" cy="322.63" r="4.3"/>
<circle cx="85.02" cy="325.09" r="4.3"/>
<circle cx="86.44" cy="328.95" r="4.3"/>
<circle cx="87.78" cy="319.99" r="4.3"/>
<circle cx="88.85" cy="316.33" r="4.3"/>
<circle cx="89.64" cy="307.1" r="4.3"/>
<circle cx="91.01" cy="295.79" r="4.3"/>
<circle cx="92.26" cy="287.55" r="4.3"/>
<circle cx="93.51" cy="278.43" r="4.3"/>
<circle cx="94.2" cy="267.13" r="4.3"/>
<circle cx="95.38" cy="255.89" r="4.3"/>
<circle cx="96.82" cy="252.61" r="4.3"/>
<circle cx="98.22" cy="245.9" r="4.3"/>
<circle cx="98.88" cy="240.98" r="4.3"/>
<circle cx="100.03" cy="235" r="4.3"/>
<circle cx="101.23" cy="231.61" r="4.3"/>
<circle cx="102.72" cy="229.73" r="4.3"/>
<circle cx="103.91" cy="227.36" r="4.3"/>
<circle cx="105.03" cy="225.18" r="4.3"/>
<circle cx="106.29" cy="223.27" r="4.3"/>
<circle cx="107.38" cy="221.91" r="4.3"/>
<circle cx="108.55" cy="220.78" r="4.3"/>
<circle cx="109.58" cy="218.42" r="4.3"/>
<circle cx="110.81" cy="219.2" r="4.3"/>
<circle cx="111.93" cy="217.42" r="4.3"/>
<circle cx="112.93" cy="218.62" r="4.3"/>
<circle cx="113.78" cy="216.83" r="4.3"/>
<circle cx="114.9" cy="216.46" r="4.3"/>
<circle cx="116.14" cy="216.62" r="4.3"/>
<circle cx="117.21" cy="218.32" r="4.3"/>
<circle cx="118.61" cy="216.63" r="4.3"/>
<circle cx="119.58" cy="217.07" r="4.3"/>
<circle cx="121.21" cy="214.42" r="4.3"/>
<circle cx="122.4" cy="217.07" r="4.3"/>
<circle cx="123.47" cy="215.21" r="4.3"/>
<circle cx="124.47" cy="214.3" r="4.3"/>
<circle cx="125.32" cy="213.95" r="4.3"/>
<circle cx="126.95" cy="214.24" r="4.3"/>
<circle cx="127.8" cy="213.48" r="4.3"/>
<circle cx="128.81" cy="216.08" r="4.3"/>
<circle cx="130.04" cy="214.72" r="4.3"/>
<circle cx="131.44" cy="212.52" r="4.3"/>
<circle cx="132.36" cy="212.11" r="4.3"/>
<circle cx="133.53" cy="210.96" r="4.3"/>
<circle cx="134.72" cy="211.31" r="4.3"/>
<circle cx="135.77" cy="212.42" r="4.3"/>
<circle cx="136.98" cy="211.51" r="4.3"/>
<circle cx="138.29" cy="213.02" r="4.3"/>
<circle cx="139.09" cy="212.39" r="4.3"/>
<circle cx="140.65" cy="212.37" r="4.3"/>
<circle cx="141.52" cy="213.34" r="4.3"/>
<circle cx="142.9" cy="214.26" r="4.3"/>
<circle cx="143.74" cy="215.13" r="4.3"/>
<circle cx="145.38" cy="214.47" r="4.3"/>
<circle cx="146.31" cy="215.63" r="4.3"/>
<circle cx="147.12" cy="216.86" r="4.3"/>
<circle cx="148.36" cy="216.88" r="4.3"/>
<circle cx="149.58" cy="217.35" r="4.3"/>
<circle cx="150.61" cy="216.11" r="4.3"/>
<circle cx="152.24" cy="215.89" r="4.3"/>
<circle cx="152.91" cy="217.02" r="4.3"/>
<circle cx="154.41" cy="219.34" r="4.3"/>
<circle cx="155.3" cy="220.65" r="4.3"/>
<circle cx="156.77" cy="220.92" r="4.3"/>
<circle cx="157.8" cy="221.52" r="4.3"/>
<circle cx="158.77" cy="225.28" r="4.3"/>
<circle cx="159.91" cy="224.95" r="4.3"/>
<circle cx="161.41" cy="227.31" r="4.3"/>
<circle cx="162.55" cy="229.07" r="4.3"/>
<circle cx="163.26" cy="230.78" r="4.3"/>
<circle cx="164.8" cy="237.54" r="4.3"/>
<circle cx="165.83" cy="242.52" r="4.3"/>
<circle cx="166.68" cy="247.96" r="4.3"/>
<circle cx="168.13" cy="255.84" r="4.3"/>
<circle cx="169.4" cy="264.34" r="4.3"/>
<circle cx="170.44" cy="272.72" r="4.3"/>
<circle cx="171.45" cy="282.57" r="4.3"/>
<circle cx="172.99" cy="287.26" r="4.3"/>
<circle cx="173.77" cy="299.67" r="4.3"/>
<circle cx="175.23" cy="308.42" r="4.3"/>
<circle cx="176.24" cy="314.84" r="4.3"/>
<circle cx="177.2" cy="320.72" r="4.3"/>
<circle cx="178.25" cy="325.34" r="4.3"/>
<circle cx="179.48" cy="328.05" r="4.3"/>
<circle cx="181.03" cy="323.97" r="4.3"/>
<circle cx="181.92" cy="319.84" r="4.3"/>
<circle cx="183.06" cy="311.41" r="4.3"/>
<circle cx="183.96" cy="301.93" r="4.3"/>
<circle cx="185.12" cy="291.82" r="4.3"/>
<circle cx="186.33" cy="283.72" r="4.3"/>
<circle cx="187.95" cy="271.82" r="4.3"/>
<circle cx="188.53" cy="264.89" r="4.3"/>
<circle cx="190.19" cy="252.98" r="4.3"/>
<circle cx="191.29" cy="246.65" r="4.3"/>
<circle cx="192.45" cy="243.7" r="4.3"/>
<circle cx="193.62" cy="238.26" r="4.3"/>
<circle cx="194.31" cy="234.55" r="4.3"/>
<circle cx="195.58" cy="231.14" r="4.3"/>
<circle cx="197.05" cy="224.58" r="4.3"/>
<circle cx="197.84" cy="224.49" r="4.3"/>
<circle cx="199.32" cy="224.61" r="4.3"/>
<circle cx="200.12" cy="220.56" r="4.3"/>
<circle cx="201.28" cy="220.03" r="4.3"/>
<circle cx="202.86" cy="219.36" r="4.3"/>
<circle cx="203.76" cy="217.13" r="4.3"/>
<circle cx="204.62" cy="215.23" r="4.3"/>
<circle cx="205.96" cy="215.65" r="4.3"/>
<circle cx="207.47" cy="216.61" r="4.3"/>
<circle cx="208.49" cy="213.99" r="4.3"/>
<circle cx="209.27" cy="213.78" r="4.3"/>
<circle cx="210.52" cy="212.04" r="4.3"/>
<circle cx="211.94" cy="212.6" r="4.3"/>
<circle cx="213.13" cy="211.89" r="4.3"/>
<circle cx="214.24" cy="212.74" r="4.3"/>
<circle cx="215.25" cy="211.35" r="4.3"/>
<circle cx="216.2" cy="212.4" r="4.3"/>
<circle cx="217.67" cy="212.01" r="4.3"/>
<circle cx="218.98" cy="210.48" r="4.3"/>
<circle cx="219.64" cy="210.33" r="4.3"/>
<circle cx="221.02" cy="209.49" r="4.3"/>
<circle cx="222.13" cy="209.94" r="4.3"/>
<circle cx="223.16" cy="210.99" r="4.3"/>
<circle cx="224.32" cy="210.79" r="4.3"/>
<circle cx="225.57" cy="212.04" r="4.3"/>
<circle cx="226.62" cy="211.82" r="4.3"/>
</g>
<path d="M36.5,212.6 L39.1,213.6 L43,215.2 L47.7,218.5 L52,222.2 L56.3,227.1 L59.2,232 L61.8,238 L64.3,244 L66.5,250.6 L68.8,259.6 L71.5,272 L74.5,287 L77.5,302 L80,314 L81.8,322 L83.5,327.5 L85.5,330.5 L87,330 L88.3,324.3 L90,314 L92,301 L94,287 L95.8,274 L97.6,261 L100.1,250.6 L101,255 L104,244.3 L106.5,237.5 L109.4,232 L112.5,227 L115.7,222.4 L119,219 L122.7,216.2 L127,214.3 L132.5,213.2 L136.5,213.5 L140.3,215.2 L145,219.3 L148.2,223 L151.3,227.1 L154.5,232.2 L157.5,238 L160,244.2 L162.2,250.6 L164.4,259.3 L167,271 L170,285 L173,300 L175.5,312 L177.7,323 L179,329 L180.3,331 L181.6,328 L182.8,322 L185,310 L187.5,296 L190,282 L192.5,268 L195.7,253.8 L198,246 L200.6,240.9 L203.3,234 L206.2,228 L209,223.5 L211.9,220 L214.5,217.7 L217.5,215.9 L221,214.6 L224,213.8 L227.5,213" fill="none" stroke="#111" stroke-width="1.25" stroke-dasharray="4.2,7.8" stroke-linejoin="round" stroke-linecap="butt"/>
<rect x="36.5" y="200" width="191" height="149.7" fill="none" stroke="#1a1a1a" stroke-width="1.15"/>
<line x1="36.5" y1="200" x2="227.5" y2="200" stroke="#333" stroke-width="1.45" />
<line x1="36.5" y1="349.7" x2="36.5" y2="346.7" stroke="#1a1a1a" stroke-width="1.0" />
<line x1="84.25" y1="349.7" x2="84.25" y2="346.7" stroke="#1a1a1a" stroke-width="1.0" />
<line x1="132" y1="349.7" x2="132" y2="346.7" stroke="#1a1a1a" stroke-width="1.0" />
<line x1="179.75" y1="349.7" x2="179.75" y2="346.7" stroke="#1a1a1a" stroke-width="1.0" />
<line x1="227.5" y1="349.7" x2="227.5" y2="346.7" stroke="#1a1a1a" stroke-width="1.0" />
<line x1="36.5" y1="245.3" x2="39.5" y2="245.3" stroke="#1a1a1a" stroke-width="1.0" />
<line x1="36.5" y1="290.1" x2="39.5" y2="290.1" stroke="#1a1a1a" stroke-width="1.0" />
<line x1="36.5" y1="334.9" x2="39.5" y2="334.9" stroke="#1a1a1a" stroke-width="1.0" />
<text x="34.4" y="249.2" font-size="13.8" font-family="Liberation Sans" text-anchor="end" fill="#1a1a1a">1.2</text>
<text x="34.7" y="338.8" font-size="13.8" font-family="Liberation Sans" text-anchor="end" fill="#1a1a1a">0.9</text>
<text x="36.1" y="364.1" font-size="13.8" font-family="Liberation Sans" text-anchor="middle" fill="#1a1a1a">-1</text>
<text x="131.9" y="364.3" font-size="13.8" font-family="Liberation Sans" text-anchor="middle" fill="#1a1a1a">0</text>
<text x="226.8" y="364.1" font-size="13.8" font-family="Liberation Sans" text-anchor="middle" fill="#1a1a1a">1</text>
<path d="M118.2,376.8 A4.7,3.25 0 1,0 127.6,376.8 A4.7,3.25 0 1,0 118.2,376.8 Z M119.65,376.8 A3.25,2.55 0 1,1 126.15,376.8 A3.25,2.55 0 1,1 119.65,376.8 Z" fill="#1a1a1a" fill-rule="evenodd"/>
<rect x="122.15" y="372.1" width="1.5" height="8.7" fill="#1a1a1a"/>
<rect x="121.7" y="372.1" width="2.4" height="0.55" fill="#1a1a1a" opacity="0.8"/>
<rect x="121.7" y="380.25" width="2.4" height="0.55" fill="#1a1a1a" opacity="0.8"/>
<line x1="128.3" y1="381.3" x2="131.4" y2="371.3" stroke="#1a1a1a" stroke-width="1.05" />
<path d="M132.2,376.8 A4.7,3.25 0 1,0 141.6,376.8 A4.7,3.25 0 1,0 132.2,376.8 Z M133.65,376.8 A3.25,2.55 0 1,1 140.15,376.8 A3.25,2.55 0 1,1 133.65,376.8 Z" fill="#1a1a1a" fill-rule="evenodd"/>
<rect x="136.15" y="372.1" width="1.5" height="8.7" fill="#1a1a1a"/>
<rect x="135.7" y="372.1" width="2.4" height="0.55" fill="#1a1a1a" opacity="0.8"/>
<rect x="135.7" y="380.25" width="2.4" height="0.55" fill="#1a1a1a" opacity="0.8"/>
<ellipse cx="144.1" cy="383.05" rx="1.55" ry="2.6" fill="none" stroke="#1a1a1a" stroke-width="0.9"/>
<g transform="translate(13.8,303.3) rotate(-90)">
<text x="0" y="0" font-size="13.8" font-family="Liberation Sans" fill="#1a1a1a">Q</text>
<text x="10.3" y="3.3" font-size="5.6" font-family="Liberation Sans" fill="#1a1a1a">v</text>
<text x="14.3" y="0" font-size="13.8" font-family="Liberation Sans" fill="#1a1a1a">(fW)</text>
<circle cx="6.6" cy="-12.4" r="1.0" fill="#1a1a1a"/>
</g>
<text x="47.3" y="343.7" font-size="13.8" font-family="Liberation Sans" font-style="italic" fill="#1a1a1a">T</text>
<ellipse cx="57.1" cy="345.3" rx="1.52" ry="2.52" fill="none" stroke="#1a1a1a" stroke-width="0.95"/>
<text x="59.3" y="343.7" font-size="13.8" font-family="Liberation Sans" fill="#1a1a1a">= 153 mK</text>
<text x="166" y="345.6" font-size="13.8" font-family="Liberation Sans" fill="#1a1a1a">Sample I</text>
<text x="240" y="214.5" font-size="18" font-family="Liberation Sans" font-weight="bold" fill="#000">e</text>
<svg x="287.7" y="199.5" width="190.3" height="149.7" viewBox="287.7 199.5 190.3 149.7" overflow="hidden">
<path d="M288,203.9 L288.52,204.06 L289.2,204.24 L290.01,204.46 L290.91,204.71 L291.88,205.01 L292.87,205.35 L293.86,205.75 L294.8,206.2 L295.71,206.7 L296.64,207.24 L297.57,207.83 L298.52,208.46 L299.49,209.15 L300.49,209.9 L301.53,210.72 L302.6,211.6 L303.73,212.57 L304.94,213.62 L306.18,214.75 L307.45,215.94 L308.72,217.16 L309.96,218.41 L311.17,219.66 L312.3,220.9 L313.37,222.16 L314.4,223.46 L315.39,224.79 L316.36,226.13 L317.31,227.46 L318.24,228.78 L319.17,230.06 L320.1,231.3 L321.02,232.52 L321.94,233.76 L322.84,234.99 L323.73,236.19 L324.6,237.33 L325.48,238.4 L326.34,239.36 L327.2,240.2 L328.05,240.93 L328.9,241.59 L329.75,242.16 L330.58,242.64 L331.41,243.04 L332.22,243.33 L333.02,243.52 L333.8,243.6 L334.56,243.57 L335.3,243.43 L336.03,243.19 L336.74,242.84 L337.45,242.41 L338.16,241.89 L338.88,241.28 L339.6,240.6 L340.32,239.82 L341.02,238.91 L341.72,237.91 L342.43,236.83 L343.14,235.69 L343.89,234.51 L344.67,233.31 L345.5,232.1 L346.38,230.85 L347.32,229.53 L348.29,228.15 L349.28,226.74 L350.29,225.34 L351.31,223.96 L352.31,222.64 L353.3,221.4 L354.28,220.22 L355.25,219.07 L356.23,217.95 L357.2,216.87 L358.18,215.83 L359.15,214.84 L360.12,213.89 L361.1,213 L362.06,212.17 L363.01,211.38 L363.94,210.65 L364.88,209.96 L365.84,209.32 L366.82,208.71 L367.83,208.14 L368.9,207.6 L370.03,207.1 L371.22,206.63 L372.46,206.2 L373.71,205.81 L374.97,205.46 L376.22,205.14 L377.44,204.85 L378.6,204.6 L379.74,204.38 L380.88,204.19 L382.01,204.04 L383.11,203.93 L384.18,203.84 L385.19,203.79 L386.14,203.78 L387,203.8 L387.73,203.84 L388.32,203.88 L388.81,203.95 L389.27,204.06 L389.73,204.23 L390.26,204.46 L390.9,204.78 L391.7,205.2 L392.67,205.72 L393.77,206.33 L394.97,207.02 L396.23,207.78 L397.54,208.61 L398.85,209.49 L400.15,210.42 L401.4,211.4 L402.63,212.43 L403.89,213.54 L405.16,214.71 L406.42,215.93 L407.67,217.19 L408.89,218.48 L410.07,219.79 L411.2,221.1 L412.28,222.46 L413.34,223.89 L414.36,225.36 L415.35,226.85 L416.31,228.33 L417.24,229.76 L418.13,231.13 L419,232.4 L419.82,233.6 L420.58,234.77 L421.3,235.9 L421.99,236.98 L422.68,237.99 L423.36,238.92 L424.06,239.76 L424.8,240.5 L425.56,241.15 L426.34,241.72 L427.12,242.21 L427.91,242.62 L428.71,242.94 L429.51,243.16 L430.3,243.28 L431.1,243.3 L431.89,243.21 L432.68,243.03 L433.48,242.76 L434.27,242.38 L435.07,241.91 L435.87,241.34 L436.68,240.67 L437.5,239.9 L438.32,239 L439.15,237.94 L439.98,236.77 L440.81,235.51 L441.66,234.19 L442.52,232.84 L443.4,231.5 L444.3,230.2 L445.23,228.89 L446.18,227.53 L447.15,226.13 L448.14,224.73 L449.13,223.34 L450.13,221.99 L451.12,220.71 L452.1,219.5 L453.08,218.37 L454.05,217.28 L455.03,216.24 L456,215.25 L456.98,214.3 L457.95,213.39 L458.93,212.53 L459.9,211.7 L460.88,210.91 L461.85,210.16 L462.82,209.44 L463.8,208.77 L464.77,208.15 L465.75,207.58 L466.72,207.06 L467.7,206.6 L468.71,206.21 L469.77,205.88 L470.86,205.61 L471.93,205.39 L472.96,205.21 L473.92,205.06 L474.78,204.93 L475.5,204.8 L476.08,204.7 L476.56,204.63 L476.94,204.6 L477.24,204.59 L477.48,204.59 L477.68,204.6 L477.84,204.6 L478,204.6" fill="none" stroke="#42bdbd" stroke-width="9.3" stroke-linejoin="round" stroke-linecap="round"/>
<path d="M288,292.5 L288.66,292.6 L289.54,292.71 L290.58,292.82 L291.74,292.97 L292.97,293.18 L294.24,293.46 L295.5,293.82 L296.7,294.3 L297.87,294.9 L299.07,295.6 L300.3,296.39 L301.54,297.25 L302.78,298.17 L304.03,299.13 L305.27,300.11 L306.5,301.1 L307.72,302.11 L308.93,303.17 L310.14,304.27 L311.35,305.39 L312.56,306.55 L313.77,307.72 L314.98,308.91 L316.2,310.1 L317.42,311.34 L318.65,312.66 L319.87,314.01 L321.1,315.38 L322.33,316.71 L323.55,317.98 L324.78,319.15 L326,320.2 L327.22,321.18 L328.43,322.15 L329.64,323.08 L330.85,323.93 L332.06,324.64 L333.27,325.18 L334.48,325.52 L335.7,325.6 L336.92,325.41 L338.15,324.96 L339.37,324.31 L340.6,323.49 L341.83,322.54 L343.05,321.49 L344.28,320.4 L345.5,319.3 L346.72,318.12 L347.93,316.81 L349.14,315.39 L350.35,313.91 L351.56,312.41 L352.77,310.91 L353.98,309.46 L355.2,308.1 L356.42,306.78 L357.65,305.46 L358.87,304.14 L360.1,302.86 L361.33,301.62 L362.55,300.45 L363.78,299.37 L365,298.4 L366.23,297.53 L367.46,296.74 L368.71,296.04 L369.94,295.4 L371.17,294.83 L372.38,294.33 L373.56,293.89 L374.7,293.5 L375.82,293.19 L376.91,292.96 L377.99,292.8 L379.04,292.7 L380.07,292.64 L381.07,292.62 L382.05,292.61 L383,292.6 L383.89,292.58 L384.71,292.56 L385.49,292.56 L386.26,292.59 L387.03,292.66 L387.84,292.79 L388.73,293 L389.7,293.3 L390.78,293.69 L391.93,294.16 L393.15,294.69 L394.41,295.29 L395.7,295.95 L396.98,296.66 L398.26,297.41 L399.5,298.2 L400.72,299.04 L401.93,299.94 L403.14,300.9 L404.35,301.9 L405.56,302.94 L406.77,304.01 L407.98,305.1 L409.2,306.2 L410.44,307.35 L411.71,308.59 L413,309.86 L414.28,311.16 L415.54,312.44 L416.76,313.67 L417.92,314.84 L419,315.9 L420.01,316.88 L420.96,317.81 L421.85,318.69 L422.71,319.51 L423.52,320.28 L424.3,320.99 L425.06,321.63 L425.8,322.2 L426.48,322.72 L427.09,323.21 L427.65,323.64 L428.19,324.01 L428.73,324.29 L429.32,324.48 L429.96,324.55 L430.7,324.5 L431.54,324.31 L432.45,324 L433.41,323.58 L434.42,323.06 L435.45,322.46 L436.48,321.79 L437.51,321.07 L438.5,320.3 L439.48,319.46 L440.45,318.52 L441.43,317.51 L442.4,316.44 L443.38,315.33 L444.35,314.21 L445.32,313.09 L446.3,312 L447.28,310.91 L448.25,309.77 L449.23,308.62 L450.2,307.47 L451.18,306.33 L452.15,305.23 L453.12,304.18 L454.1,303.2 L455.06,302.28 L456.01,301.4 L456.94,300.57 L457.88,299.77 L458.84,299.01 L459.82,298.3 L460.83,297.63 L461.9,297 L463.04,296.42 L464.27,295.87 L465.54,295.38 L466.84,294.92 L468.12,294.5 L469.36,294.13 L470.53,293.79 L471.6,293.5 L472.6,293.26 L473.58,293.07 L474.52,292.93 L475.41,292.83 L476.21,292.76 L476.93,292.7 L477.53,292.65 L478,292.6" fill="none" stroke="#42bdbd" stroke-width="9.3" stroke-linejoin="round" stroke-linecap="round"/>
<path d="M288,201.9 L288.85,202.22 L289.99,202.62 L291.36,203.1 L292.86,203.64 L294.43,204.24 L295.98,204.89 L297.43,205.58 L298.7,206.3 L299.83,207.08 L300.91,207.95 L301.94,208.89 L302.92,209.86 L303.87,210.84 L304.78,211.81 L305.65,212.73 L306.5,213.6 L307.31,214.41 L308.07,215.2 L308.79,215.96 L309.47,216.71 L310.13,217.43 L310.77,218.14 L311.39,218.82 L312,219.5 L312.59,220.15 L313.15,220.76 L313.68,221.34 L314.19,221.91 L314.7,222.48 L315.19,223.06 L315.69,223.66 L316.2,224.3 L316.72,224.98 L317.25,225.69 L317.79,226.42 L318.32,227.16 L318.83,227.9 L319.32,228.63 L319.78,229.33 L320.2,230 L320.56,230.6 L320.88,231.12 L321.16,231.6 L321.42,232.08 L321.67,232.59 L321.92,233.15 L322.2,233.81 L322.5,234.6 L322.84,235.56 L323.21,236.67 L323.6,237.89 L323.99,239.16 L324.37,240.44 L324.75,241.67 L325.09,242.81 L325.4,243.8 L325.67,244.61 L325.9,245.27 L326.1,245.84 L326.29,246.36 L326.47,246.89 L326.66,247.47 L326.87,248.16 L327.1,249 L327.36,250.04 L327.65,251.25 L327.94,252.57 L328.25,253.94 L328.56,255.3 L328.85,256.61 L329.14,257.79 L329.4,258.8 L329.64,259.62 L329.86,260.3 L330.07,260.88 L330.28,261.39 L330.47,261.87 L330.68,262.34 L330.88,262.84 L331.1,263.4 L331.33,264.03 L331.55,264.69 L331.78,265.38 L332.01,266.06 L332.25,266.73 L332.49,267.37 L332.74,267.97 L333,268.5 L333.27,269 L333.55,269.49 L333.84,269.96 L334.13,270.39 L334.43,270.76 L334.72,271.05 L335.01,271.23 L335.3,271.3 L335.58,271.23 L335.87,271.05 L336.16,270.76 L336.45,270.39 L336.73,269.96 L337,269.49 L337.26,268.99 L337.5,268.5 L337.72,267.98 L337.93,267.41 L338.12,266.79 L338.3,266.15 L338.48,265.49 L338.65,264.82 L338.82,264.15 L339,263.5 L339.18,262.85 L339.35,262.19 L339.52,261.52 L339.69,260.84 L339.86,260.18 L340.03,259.53 L340.21,258.9 L340.4,258.3 L340.59,257.77 L340.78,257.33 L340.96,256.93 L341.16,256.54 L341.36,256.11 L341.58,255.6 L341.83,254.98 L342.1,254.2 L342.41,253.21 L342.77,252.03 L343.15,250.71 L343.55,249.33 L343.95,247.94 L344.33,246.62 L344.69,245.42 L345,244.4 L345.27,243.59 L345.5,242.92 L345.7,242.37 L345.89,241.88 L346.07,241.42 L346.26,240.95 L346.47,240.42 L346.7,239.8 L346.96,239.08 L347.23,238.29 L347.52,237.46 L347.81,236.61 L348.11,235.77 L348.41,234.95 L348.71,234.19 L349,233.5 L349.28,232.9 L349.54,232.39 L349.8,231.92 L350.06,231.48 L350.33,231.05 L350.63,230.59 L350.95,230.08 L351.3,229.5 L351.69,228.84 L352.12,228.12 L352.57,227.35 L353.04,226.56 L353.52,225.76 L354.01,224.98 L354.51,224.22 L355,223.5 L355.45,222.85 L355.86,222.27 L356.26,221.72 L356.67,221.17 L357.13,220.61 L357.66,219.99 L358.31,219.3 L359.1,218.5 L360.05,217.56 L361.15,216.48 L362.36,215.32 L363.65,214.11 L364.98,212.9 L366.32,211.73 L367.64,210.65 L368.9,209.7 L370.15,208.86 L371.46,208.07 L372.78,207.34 L374.09,206.67 L375.36,206.06 L376.55,205.51 L377.64,205.02 L378.6,204.6 L379.35,204.23 L379.88,203.92 L380.28,203.66 L380.62,203.46 L380.98,203.34 L381.45,203.3 L382.09,203.35 L383,203.5 L384.22,203.78 L385.7,204.19 L387.35,204.7 L389.11,205.29 L390.9,205.92 L392.62,206.57 L394.22,207.21 L395.6,207.8 L396.78,208.36 L397.85,208.9 L398.82,209.45 L399.71,210.01 L400.56,210.59 L401.37,211.19 L402.18,211.82 L403,212.5 L403.82,213.21 L404.61,213.94 L405.37,214.69 L406.12,215.47 L406.85,216.29 L407.57,217.14 L408.28,218.05 L409,219 L409.74,220.05 L410.49,221.22 L411.26,222.46 L412.01,223.72 L412.72,224.98 L413.39,226.17 L413.99,227.26 L414.5,228.2 L414.9,228.95 L415.18,229.52 L415.39,229.98 L415.55,230.38 L415.7,230.79 L415.87,231.28 L416.09,231.89 L416.4,232.7 L416.81,233.74 L417.28,234.97 L417.8,236.34 L418.35,237.77 L418.9,239.22 L419.42,240.61 L419.89,241.89 L420.3,243 L420.63,243.9 L420.9,244.64 L421.13,245.27 L421.34,245.85 L421.53,246.43 L421.73,247.06 L421.95,247.8 L422.2,248.7 L422.49,249.81 L422.8,251.09 L423.13,252.48 L423.46,253.92 L423.79,255.36 L424.12,256.72 L424.42,257.96 L424.7,259 L424.95,259.83 L425.17,260.51 L425.38,261.07 L425.57,261.55 L425.77,261.99 L425.97,262.44 L426.17,262.93 L426.4,263.5 L426.64,264.16 L426.89,264.88 L427.14,265.63 L427.4,266.39 L427.67,267.13 L427.94,267.83 L428.22,268.46 L428.5,269 L428.8,269.48 L429.11,269.92 L429.43,270.32 L429.75,270.67 L430.07,270.95 L430.39,271.16 L430.7,271.28 L431,271.3 L431.28,271.23 L431.54,271.09 L431.8,270.87 L432.05,270.58 L432.3,270.19 L432.56,269.72 L432.82,269.16 L433.1,268.5 L433.4,267.69 L433.72,266.72 L434.05,265.63 L434.38,264.46 L434.71,263.27 L435.03,262.1 L435.33,260.99 L435.6,260 L435.83,259.14 L436.03,258.37 L436.21,257.66 L436.38,256.97 L436.54,256.27 L436.73,255.54 L436.94,254.72 L437.2,253.8 L437.51,252.73 L437.87,251.52 L438.26,250.22 L438.67,248.89 L439.07,247.58 L439.46,246.32 L439.81,245.18 L440.1,244.2 L440.32,243.43 L440.48,242.85 L440.59,242.39 L440.69,241.99 L440.79,241.58 L440.93,241.11 L441.12,240.5 L441.4,239.7 L441.78,238.65 L442.23,237.4 L442.75,236.02 L443.3,234.56 L443.86,233.11 L444.39,231.74 L444.88,230.51 L445.3,229.5 L445.63,228.72 L445.89,228.12 L446.11,227.65 L446.31,227.26 L446.51,226.91 L446.74,226.55 L447.03,226.13 L447.4,225.6 L447.85,224.97 L448.36,224.27 L448.92,223.53 L449.52,222.77 L450.14,222.02 L450.76,221.29 L451.39,220.61 L452,220 L452.58,219.5 L453.13,219.1 L453.68,218.76 L454.24,218.44 L454.83,218.1 L455.47,217.69 L456.19,217.17 L457,216.5 L457.93,215.62 L458.98,214.56 L460.11,213.37 L461.29,212.12 L462.48,210.87 L463.65,209.7 L464.77,208.65 L465.8,207.8 L466.76,207.14 L467.67,206.6 L468.56,206.17 L469.41,205.82 L470.24,205.53 L471.05,205.28 L471.83,205.04 L472.6,204.8 L473.38,204.57 L474.18,204.39 L474.96,204.23 L475.73,204.11 L476.43,204.01 L477.06,203.93 L477.59,203.86 L478,203.8" fill="none" stroke="#111" stroke-width="1.25" stroke-dasharray="5,10" stroke-linejoin="round" stroke-linecap="butt"/>
<path d="M288,291.2 L289.18,291.6 L290.82,292.14 L292.77,292.77 L294.9,293.48 L297.08,294.23 L299.18,294.99 L301.07,295.72 L302.6,296.4 L303.8,297.04 L304.8,297.66 L305.65,298.28 L306.38,298.9 L307.04,299.53 L307.67,300.16 L308.31,300.82 L309,301.5 L309.71,302.17 L310.39,302.8 L311.04,303.42 L311.68,304.07 L312.32,304.78 L312.96,305.56 L313.62,306.46 L314.3,307.5 L315.03,308.76 L315.8,310.24 L316.6,311.87 L317.4,313.57 L318.18,315.25 L318.92,316.84 L319.6,318.25 L320.2,319.4 L320.7,320.25 L321.11,320.85 L321.46,321.28 L321.77,321.62 L322.06,321.93 L322.37,322.3 L322.71,322.8 L323.1,323.5 L323.55,324.44 L324.05,325.55 L324.57,326.78 L325.1,328.07 L325.63,329.36 L326.15,330.6 L326.65,331.74 L327.1,332.7 L327.51,333.49 L327.9,334.16 L328.26,334.74 L328.61,335.25 L328.95,335.73 L329.29,336.22 L329.64,336.73 L330,337.3 L330.37,337.94 L330.73,338.62 L331.1,339.32 L331.46,340.03 L331.83,340.72 L332.21,341.38 L332.6,341.98 L333,342.5 L333.41,342.99 L333.84,343.48 L334.28,343.94 L334.73,344.36 L335.18,344.69 L335.63,344.93 L336.07,345.04 L336.5,345 L336.92,344.81 L337.32,344.48 L337.72,344.04 L338.12,343.5 L338.52,342.86 L338.93,342.14 L339.36,341.35 L339.8,340.5 L340.28,339.52 L340.79,338.36 L341.32,337.09 L341.86,335.76 L342.39,334.43 L342.9,333.15 L343.38,331.99 L343.8,331 L344.15,330.21 L344.44,329.56 L344.68,329.03 L344.91,328.56 L345.14,328.09 L345.4,327.59 L345.71,327.01 L346.1,326.3 L346.59,325.43 L347.16,324.44 L347.79,323.37 L348.45,322.26 L349.11,321.16 L349.74,320.1 L350.31,319.14 L350.8,318.3 L351.16,317.65 L351.41,317.16 L351.59,316.78 L351.74,316.44 L351.93,316.07 L352.18,315.62 L352.56,315.02 L353.1,314.2 L353.82,313.14 L354.66,311.88 L355.61,310.48 L356.64,308.99 L357.73,307.46 L358.85,305.95 L359.98,304.51 L361.1,303.2 L362.21,301.97 L363.35,300.74 L364.5,299.53 L365.69,298.37 L366.9,297.27 L368.16,296.24 L369.46,295.31 L370.8,294.5 L372.23,293.8 L373.76,293.19 L375.35,292.66 L376.96,292.22 L378.57,291.86 L380.14,291.57 L381.63,291.36 L383,291.2 L384.25,291.1 L385.4,291.07 L386.47,291.11 L387.51,291.22 L388.52,291.41 L389.54,291.68 L390.59,292.04 L391.7,292.5 L392.89,293.09 L394.13,293.82 L395.4,294.65 L396.68,295.56 L397.95,296.52 L399.17,297.48 L400.33,298.42 L401.4,299.3 L402.39,300.15 L403.33,301 L404.22,301.85 L405.06,302.7 L405.85,303.54 L406.61,304.38 L407.32,305.2 L408,306 L408.63,306.78 L409.2,307.52 L409.73,308.25 L410.22,308.97 L410.68,309.69 L411.12,310.43 L411.56,311.2 L412,312 L412.43,312.86 L412.84,313.78 L413.22,314.73 L413.6,315.69 L413.97,316.65 L414.34,317.56 L414.71,318.42 L415.1,319.2 L415.5,319.88 L415.91,320.48 L416.32,321.03 L416.73,321.54 L417.14,322.04 L417.54,322.55 L417.93,323.09 L418.3,323.7 L418.66,324.37 L419.01,325.09 L419.35,325.84 L419.68,326.6 L420,327.36 L420.31,328.11 L420.61,328.83 L420.9,329.5 L421.16,330.11 L421.38,330.66 L421.58,331.17 L421.77,331.68 L421.97,332.19 L422.2,332.73 L422.47,333.33 L422.8,334 L423.2,334.78 L423.66,335.66 L424.17,336.61 L424.71,337.58 L425.24,338.54 L425.77,339.46 L426.26,340.29 L426.7,341 L427.09,341.62 L427.44,342.18 L427.77,342.69 L428.09,343.14 L428.39,343.53 L428.69,343.83 L428.99,344.06 L429.3,344.2 L429.62,344.23 L429.94,344.15 L430.26,343.98 L430.58,343.74 L430.89,343.45 L431.2,343.13 L431.5,342.81 L431.8,342.5 L432.09,342.2 L432.37,341.87 L432.64,341.52 L432.91,341.16 L433.18,340.77 L433.45,340.36 L433.72,339.94 L434,339.5 L434.28,339.03 L434.56,338.54 L434.85,338.03 L435.13,337.49 L435.42,336.95 L435.71,336.4 L436,335.85 L436.3,335.3 L436.58,334.79 L436.85,334.33 L437.1,333.89 L437.37,333.43 L437.66,332.93 L437.98,332.34 L438.36,331.64 L438.8,330.8 L439.34,329.75 L439.99,328.48 L440.7,327.08 L441.44,325.61 L442.17,324.14 L442.87,322.75 L443.49,321.52 L444,320.5 L444.37,319.76 L444.61,319.25 L444.77,318.89 L444.89,318.61 L445.02,318.33 L445.2,317.97 L445.48,317.45 L445.9,316.7 L446.46,315.69 L447.11,314.48 L447.84,313.13 L448.63,311.7 L449.47,310.23 L450.34,308.79 L451.22,307.43 L452.1,306.2 L452.98,305.08 L453.89,304.02 L454.82,302.99 L455.78,302.01 L456.76,301.07 L457.77,300.15 L458.82,299.27 L459.9,298.4 L461.04,297.54 L462.24,296.7 L463.49,295.87 L464.77,295.08 L466.05,294.34 L467.31,293.65 L468.53,293.03 L469.7,292.5 L470.87,292.06 L472.07,291.7 L473.29,291.41 L474.46,291.18 L475.56,291 L476.54,290.85 L477.37,290.72 L478,290.6" fill="none" stroke="#111" stroke-width="1.25" stroke-dasharray="5,10" stroke-linejoin="round" stroke-linecap="butt"/>
</svg>
<rect x="287.7" y="199.5" width="190.3" height="149.7" fill="none" stroke="#1a1a1a" stroke-width="1.15"/>
<line x1="287.7" y1="274.9" x2="478" y2="274.9" stroke="#333" stroke-width="1.4" />
<line x1="288" y1="349.2" x2="288" y2="346.2" stroke="#1a1a1a" stroke-width="1.0" />
<line x1="288" y1="199.5" x2="288" y2="202.5" stroke="#1a1a1a" stroke-width="1.0" />
<line x1="335.5" y1="349.2" x2="335.5" y2="346.2" stroke="#1a1a1a" stroke-width="1.0" />
<line x1="335.5" y1="199.5" x2="335.5" y2="202.5" stroke="#1a1a1a" stroke-width="1.0" />
<line x1="383" y1="349.2" x2="383" y2="346.2" stroke="#1a1a1a" stroke-width="1.0" />
<line x1="383" y1="199.5" x2="383" y2="202.5" stroke="#1a1a1a" stroke-width="1.0" />
<line x1="430.5" y1="349.2" x2="430.5" y2="346.2" stroke="#1a1a1a" stroke-width="1.0" />
<line x1="430.5" y1="199.5" x2="430.5" y2="202.5" stroke="#1a1a1a" stroke-width="1.0" />
<line x1="478" y1="349.2" x2="478" y2="346.2" stroke="#1a1a1a" stroke-width="1.0" />
<line x1="478" y1="199.5" x2="478" y2="202.5" stroke="#1a1a1a" stroke-width="1.0" />
<line x1="288" y1="274.9" x2="288" y2="272.4" stroke="#1a1a1a" stroke-width="1.0" />
<line x1="288" y1="274.9" x2="288" y2="277.4" stroke="#1a1a1a" stroke-width="1.0" />
<line x1="335.5" y1="274.9" x2="335.5" y2="272.4" stroke="#1a1a1a" stroke-width="1.0" />
<line x1="335.5" y1="274.9" x2="335.5" y2="277.4" stroke="#1a1a1a" stroke-width="1.0" />
<line x1="383" y1="274.9" x2="383" y2="272.4" stroke="#1a1a1a" stroke-width="1.0" />
<line x1="383" y1="274.9" x2="383" y2="277.4" stroke="#1a1a1a" stroke-width="1.0" />
<line x1="430.5" y1="274.9" x2="430.5" y2="272.4" stroke="#1a1a1a" stroke-width="1.0" />
<line x1="430.5" y1="274.9" x2="430.5" y2="277.4" stroke="#1a1a1a" stroke-width="1.0" />
<line x1="478" y1="274.9" x2="478" y2="272.4" stroke="#1a1a1a" stroke-width="1.0" />
<line x1="478" y1="274.9" x2="478" y2="277.4" stroke="#1a1a1a" stroke-width="1.0" />
<line x1="287.7" y1="203.7" x2="290.7" y2="203.7" stroke="#1a1a1a" stroke-width="1.0" />
<line x1="478" y1="203.7" x2="475" y2="203.7" stroke="#1a1a1a" stroke-width="1.0" />
<line x1="287.7" y1="229" x2="290.7" y2="229" stroke="#1a1a1a" stroke-width="1.0" />
<line x1="478" y1="229" x2="475" y2="229" stroke="#1a1a1a" stroke-width="1.0" />
<line x1="287.7" y1="254.3" x2="290.7" y2="254.3" stroke="#1a1a1a" stroke-width="1.0" />
<line x1="478" y1="254.3" x2="475" y2="254.3" stroke="#1a1a1a" stroke-width="1.0" />
<line x1="287.7" y1="291.3" x2="290.7" y2="291.3" stroke="#1a1a1a" stroke-width="1.0" />
<line x1="478" y1="291.3" x2="475" y2="291.3" stroke="#1a1a1a" stroke-width="1.0" />
<line x1="287.7" y1="309.7" x2="290.7" y2="309.7" stroke="#1a1a1a" stroke-width="1.0" />
<line x1="478" y1="309.7" x2="475" y2="309.7" stroke="#1a1a1a" stroke-width="1.0" />
<line x1="287.7" y1="328.2" x2="290.7" y2="328.2" stroke="#1a1a1a" stroke-width="1.0" />
<line x1="478" y1="328.2" x2="475" y2="328.2" stroke="#1a1a1a" stroke-width="1.0" />
<line x1="287.7" y1="346.6" x2="290.7" y2="346.6" stroke="#1a1a1a" stroke-width="1.0" />
<line x1="478" y1="346.6" x2="475" y2="346.6" stroke="#1a1a1a" stroke-width="1.0" />
<text x="285.6" y="210.9" font-size="13.8" font-family="Liberation Sans" text-anchor="end" fill="#1a1a1a">3.6</text>
<text x="285.8" y="258.7" font-size="13.8" font-family="Liberation Sans" text-anchor="end" fill="#1a1a1a">2.4</text>
<text x="285.4" y="294.9" font-size="13.8" font-family="Liberation Sans" text-anchor="end" fill="#1a1a1a">1.05</text>
<text x="285.1" y="332.3" font-size="13.8" font-family="Liberation Sans" text-anchor="end" fill="#1a1a1a">0.70</text>
<text x="286.4" y="364.2" font-size="13.8" font-family="Liberation Sans" text-anchor="middle" fill="#1a1a1a">-1</text>
<text x="381.6" y="364.3" font-size="13.8" font-family="Liberation Sans" text-anchor="middle" fill="#1a1a1a">0</text>
<text x="476.3" y="364" font-size="13.8" font-family="Liberation Sans" text-anchor="middle" fill="#1a1a1a">1</text>
<path d="M369.7,376.8 A4.7,3.25 0 1,0 379.1,376.8 A4.7,3.25 0 1,0 369.7,376.8 Z M371.15,376.8 A3.25,2.55 0 1,1 377.65,376.8 A3.25,2.55 0 1,1 371.15,376.8 Z" fill="#1a1a1a" fill-rule="evenodd"/>
<rect x="373.65" y="372.1" width="1.5" height="8.7" fill="#1a1a1a"/>
<rect x="373.2" y="372.1" width="2.4" height="0.55" fill="#1a1a1a" opacity="0.8"/>
<rect x="373.2" y="380.25" width="2.4" height="0.55" fill="#1a1a1a" opacity="0.8"/>
<line x1="379.8" y1="381.3" x2="382.9" y2="371.3" stroke="#1a1a1a" stroke-width="1.05" />
<path d="M383.7,376.8 A4.7,3.25 0 1,0 393.1,376.8 A4.7,3.25 0 1,0 383.7,376.8 Z M385.15,376.8 A3.25,2.55 0 1,1 391.65,376.8 A3.25,2.55 0 1,1 385.15,376.8 Z" fill="#1a1a1a" fill-rule="evenodd"/>
<rect x="387.65" y="372.1" width="1.5" height="8.7" fill="#1a1a1a"/>
<rect x="387.2" y="372.1" width="2.4" height="0.55" fill="#1a1a1a" opacity="0.8"/>
<rect x="387.2" y="380.25" width="2.4" height="0.55" fill="#1a1a1a" opacity="0.8"/>
<ellipse cx="395.6" cy="383.05" rx="1.55" ry="2.6" fill="none" stroke="#1a1a1a" stroke-width="0.9"/>
<g transform="translate(250.5,304.1) rotate(-90)">
<text x="0" y="0" font-size="13.8" font-family="Liberation Sans" fill="#1a1a1a">Q</text>
<text x="10.3" y="3.3" font-size="5.6" font-family="Liberation Sans" fill="#1a1a1a">v</text>
<text x="14.3" y="0" font-size="13.8" font-family="Liberation Sans" fill="#1a1a1a">(fW)</text>
<circle cx="6.6" cy="-12.4" r="1.0" fill="#1a1a1a"/>
</g>
<text x="346.2" y="267.6" font-size="13.8" font-family="Liberation Sans" font-style="italic" fill="#1a1a1a">T</text>
<ellipse cx="356" cy="269.2" rx="1.52" ry="2.52" fill="none" stroke="#1a1a1a" stroke-width="0.95"/>
<text x="358.2" y="267.6" font-size="13.8" font-family="Liberation Sans" fill="#1a1a1a">= 180 mK</text>
<text x="346.2" y="342.6" font-size="13.8" font-family="Liberation Sans" font-style="italic" fill="#1a1a1a">T</text>
<ellipse cx="356" cy="344.2" rx="1.52" ry="2.52" fill="none" stroke="#1a1a1a" stroke-width="0.95"/>
<text x="358.2" y="342.6" font-size="13.8" font-family="Liberation Sans" fill="#1a1a1a">= 150 mK</text>
<text x="314.6" y="288" font-size="13.8" font-family="Liberation Sans" fill="#1a1a1a">Sample II</text>
<rect x="50.24" y="167.52" width="3.02" height="1.93" fill="#fff"/>
<rect x="54.48" y="167.52" width="2.91" height="1.93" fill="#fff"/>
<rect x="125.04" y="167.52" width="3.02" height="1.93" fill="#fff"/>
<rect x="129.28" y="167.52" width="2.91" height="1.93" fill="#fff"/>
<rect x="294.74" y="167.82" width="3.02" height="1.93" fill="#fff"/>
<rect x="298.98" y="167.82" width="2.91" height="1.93" fill="#fff"/>
<rect x="351.24" y="167.82" width="3.02" height="1.93" fill="#fff"/>
<rect x="355.48" y="167.82" width="2.91" height="1.93" fill="#fff"/>
<rect x="407.54" y="167.82" width="3.02" height="1.93" fill="#fff"/>
<rect x="411.78" y="167.82" width="2.91" height="1.93" fill="#fff"/>
<rect x="15.67" y="247.82" width="3.02" height="1.93" fill="#fff"/>
<rect x="19.91" y="247.82" width="2.91" height="1.93" fill="#fff"/>
<rect x="35.01" y="362.72" width="3.02" height="1.93" fill="#fff"/>
<rect x="39.25" y="362.72" width="2.91" height="1.93" fill="#fff"/>
<rect x="223.41" y="362.72" width="3.02" height="1.93" fill="#fff"/>
<rect x="227.65" y="362.72" width="2.91" height="1.93" fill="#fff"/>
<rect x="71.64" y="342.32" width="3.02" height="1.93" fill="#fff"/>
<rect x="75.88" y="342.32" width="2.91" height="1.93" fill="#fff"/>
<rect x="258.99" y="293.52" width="3.02" height="1.93" fill="#fff"/>
<rect x="263.23" y="293.52" width="2.91" height="1.93" fill="#fff"/>
<rect x="285.31" y="362.82" width="3.02" height="1.93" fill="#fff"/>
<rect x="289.55" y="362.82" width="2.91" height="1.93" fill="#fff"/>
<rect x="472.91" y="362.62" width="3.02" height="1.93" fill="#fff"/>
<rect x="477.15" y="362.62" width="2.91" height="1.93" fill="#fff"/>
<rect x="370.54" y="266.22" width="3.02" height="1.93" fill="#fff"/>
<rect x="374.78" y="266.22" width="2.91" height="1.93" fill="#fff"/>
<rect x="370.54" y="341.22" width="3.02" height="1.93" fill="#fff"/>
<rect x="374.78" y="341.22" width="2.91" height="1.93" fill="#fff"/>
</svg></body></html>
